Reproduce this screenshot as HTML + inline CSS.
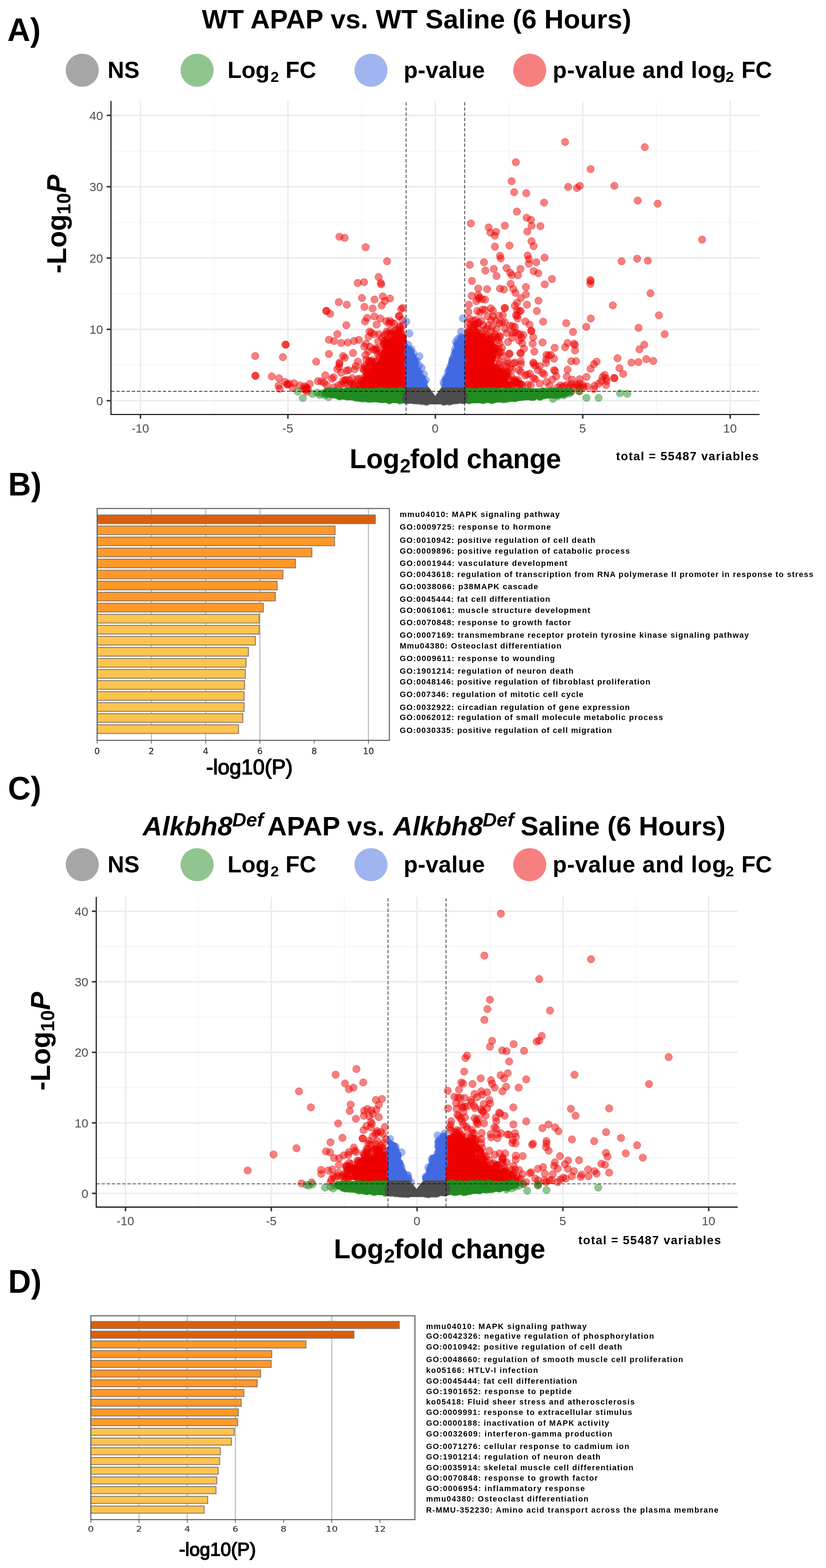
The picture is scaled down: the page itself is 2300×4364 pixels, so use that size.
<!DOCTYPE html><html><head><meta charset="utf-8"><title>Figure</title><style>html,body{margin:0;padding:0;background:#fff}svg{display:block}text{white-space:pre}</style></head><body>
<svg width="2300" height="4364" viewBox="0 0 2300 4364">
<rect width="2300" height="4364" fill="#fff"/>
<text transform="translate(20.5,114) scale(1,1.035)" font-family="'Liberation Sans', sans-serif" font-size="88" font-weight="bold">A)</text>
<text transform="translate(22.8,1378.6) scale(1,1.035)" font-family="'Liberation Sans', sans-serif" font-size="88" font-weight="bold">B)</text>
<text transform="translate(22,2225) scale(1,1.035)" font-family="'Liberation Sans', sans-serif" font-size="88" font-weight="bold">C)</text>
<text transform="translate(22.8,3597.5) scale(1,1.035)" font-family="'Liberation Sans', sans-serif" font-size="88" font-weight="bold">D)</text>
<text x="562" y="78.6" font-family="'Liberation Sans', sans-serif" font-size="75" font-weight="bold" textLength="1196" lengthAdjust="spacing">WT APAP vs. WT Saline (6 Hours)</text>
<circle cx="229" cy="195.5" r="46" fill="#A6A6A6"/>
<circle cx="548.8" cy="195.5" r="46" fill="#90C590"/>
<circle cx="1033" cy="195.5" r="46" fill="#A0B4F0"/>
<circle cx="1475" cy="195.5" r="46" fill="#F68080"/>
<text x="299.5" y="216.9" font-family="'Liberation Sans', sans-serif" font-size="64" font-weight="bold">NS</text>
<text x="633.4" y="216.9" font-family="'Liberation Sans', sans-serif" font-size="64" font-weight="bold">Log</text>
<text x="753.5" y="227.9" font-family="'Liberation Sans', sans-serif" font-size="41.5" font-weight="bold">2</text>
<text x="795.1" y="216.9" font-family="'Liberation Sans', sans-serif" font-size="64" font-weight="bold">FC</text>
<text x="1124" y="216.9" font-family="'Liberation Sans', sans-serif" font-size="64" font-weight="bold" textLength="226" lengthAdjust="spacing">p-value</text>
<text x="1539" y="216.9" font-family="'Liberation Sans', sans-serif" font-size="64" font-weight="bold" textLength="483" lengthAdjust="spacing">p-value and log</text>
<text x="2020.5" y="227.9" font-family="'Liberation Sans', sans-serif" font-size="41.5" font-weight="bold">2</text>
<text x="2064.5" y="216.9" font-family="'Liberation Sans', sans-serif" font-size="64" font-weight="bold">FC</text>
<g>
<line x1="596.5" x2="596.5" y1="281" y2="1153.7" stroke="#F0F0F0" stroke-width="1.6"/>
<line x1="1007.0" x2="1007.0" y1="281" y2="1153.7" stroke="#F0F0F0" stroke-width="1.6"/>
<line x1="1417.5" x2="1417.5" y1="281" y2="1153.7" stroke="#F0F0F0" stroke-width="1.6"/>
<line x1="1828.0" x2="1828.0" y1="281" y2="1153.7" stroke="#F0F0F0" stroke-width="1.6"/>
<line x1="309.3" x2="2115" y1="1016.0" y2="1016.0" stroke="#F0F0F0" stroke-width="1.6"/>
<line x1="309.3" x2="2115" y1="817.5" y2="817.5" stroke="#F0F0F0" stroke-width="1.6"/>
<line x1="309.3" x2="2115" y1="619.0" y2="619.0" stroke="#F0F0F0" stroke-width="1.6"/>
<line x1="309.3" x2="2115" y1="420.5" y2="420.5" stroke="#F0F0F0" stroke-width="1.6"/>
<line x1="391.2" x2="391.2" y1="281" y2="1153.7" stroke="#EBEBEB" stroke-width="4"/>
<line x1="801.7" x2="801.7" y1="281" y2="1153.7" stroke="#EBEBEB" stroke-width="4"/>
<line x1="1212.2" x2="1212.2" y1="281" y2="1153.7" stroke="#EBEBEB" stroke-width="4"/>
<line x1="1622.7" x2="1622.7" y1="281" y2="1153.7" stroke="#EBEBEB" stroke-width="4"/>
<line x1="2033.2" x2="2033.2" y1="281" y2="1153.7" stroke="#EBEBEB" stroke-width="4"/>
<line x1="309.3" x2="2115" y1="1115.2" y2="1115.2" stroke="#EBEBEB" stroke-width="4"/>
<line x1="309.3" x2="2115" y1="916.7" y2="916.7" stroke="#EBEBEB" stroke-width="4"/>
<line x1="309.3" x2="2115" y1="718.2" y2="718.2" stroke="#EBEBEB" stroke-width="4"/>
<line x1="309.3" x2="2115" y1="519.7" y2="519.7" stroke="#EBEBEB" stroke-width="4"/>
<line x1="309.3" x2="2115" y1="321.2" y2="321.2" stroke="#EBEBEB" stroke-width="4"/>
<g fill="#EE0000" >
<path d="M1131.0 931.0L1106.0 937.0L1084.0 947.0L1073.0 965.0L1067.0 989.0L1052.0 1005.0L1037.0 1020.0L1032.0 1040.0L1022.0 1059.0L1010.0 1073.0L968.0 1080.0L1131.0 1084.0Z"/>
<path d="M1293.0 927.0L1320.0 927.0L1344.0 932.0L1363.0 946.0L1370.0 970.0L1374.0 995.0L1370.0 1015.0L1380.0 1030.0L1400.0 1041.0L1414.0 1055.0L1420.0 1069.0L1428.0 1079.0L1293.0 1084.0Z"/>
<circle cx="1078.2" cy="970.8" r="11" fill-opacity="0.5"/><circle cx="1075.3" cy="970.2" r="11" fill-opacity="0.75"/><circle cx="1109.3" cy="943.4" r="11" fill-opacity="0.75"/><circle cx="1089.5" cy="1074.5" r="11" fill-opacity="0.5"/><circle cx="1124.7" cy="974.3" r="11" fill-opacity="0.75"/><circle cx="1087.0" cy="960.2" r="11" fill-opacity="0.75"/><circle cx="1115.4" cy="941.3" r="11" fill-opacity="0.5"/><circle cx="1020.3" cy="1068.2" r="11" fill-opacity="0.75"/><circle cx="1037.6" cy="1044.0" r="11" fill-opacity="0.75"/><circle cx="1123.8" cy="1025.8" r="11" fill-opacity="0.5"/><circle cx="1081.4" cy="1073.9" r="11" fill-opacity="0.75"/><circle cx="1040.9" cy="1041.6" r="11" fill-opacity="0.75"/><circle cx="1122.7" cy="1065.5" r="11" fill-opacity="0.5"/><circle cx="1124.3" cy="1003.5" r="11" fill-opacity="0.75"/><circle cx="1044.6" cy="1023.0" r="11" fill-opacity="0.75"/><circle cx="1086.4" cy="960.1" r="11" fill-opacity="0.5"/><circle cx="1026.5" cy="1063.5" r="11" fill-opacity="0.75"/><circle cx="1066.4" cy="1002.7" r="11" fill-opacity="0.75"/><circle cx="1086.4" cy="955.2" r="11" fill-opacity="0.5"/><circle cx="1031.6" cy="1050.6" r="11" fill-opacity="0.75"/><circle cx="1122.7" cy="949.5" r="11" fill-opacity="0.75"/><circle cx="1108.5" cy="1073.8" r="11" fill-opacity="0.5"/><circle cx="1122.6" cy="1041.1" r="11" fill-opacity="0.75"/><circle cx="1123.7" cy="968.9" r="11" fill-opacity="0.75"/><circle cx="1065.5" cy="1001.3" r="11" fill-opacity="0.5"/><circle cx="1034.2" cy="1044.4" r="11" fill-opacity="0.75"/><circle cx="1121.1" cy="941.3" r="11" fill-opacity="0.75"/><circle cx="1045.2" cy="1018.9" r="11" fill-opacity="0.5"/><circle cx="1122.6" cy="1058.5" r="11" fill-opacity="0.75"/><circle cx="1046.9" cy="1072.5" r="11" fill-opacity="0.75"/><circle cx="1072.7" cy="984.2" r="11" fill-opacity="0.5"/><circle cx="1081.7" cy="965.5" r="11" fill-opacity="0.75"/><circle cx="1032.4" cy="1060.2" r="11" fill-opacity="0.75"/><circle cx="1122.5" cy="1017.8" r="11" fill-opacity="0.5"/><circle cx="1015.8" cy="1072.8" r="11" fill-opacity="0.75"/><circle cx="1123.2" cy="993.8" r="11" fill-opacity="0.75"/><circle cx="1096.4" cy="945.0" r="11" fill-opacity="0.5"/><circle cx="1039.9" cy="1035.5" r="11" fill-opacity="0.75"/><circle cx="1044.2" cy="1029.9" r="11" fill-opacity="0.75"/><circle cx="1123.3" cy="979.1" r="11" fill-opacity="0.5"/><circle cx="1042.4" cy="1072.1" r="11" fill-opacity="0.75"/><circle cx="1121.8" cy="939.0" r="11" fill-opacity="0.75"/><circle cx="1026.5" cy="1064.9" r="11" fill-opacity="0.5"/><circle cx="1073.5" cy="980.2" r="11" fill-opacity="0.75"/><circle cx="1037.7" cy="1032.4" r="11" fill-opacity="0.75"/><circle cx="1123.3" cy="1039.5" r="11" fill-opacity="0.5"/><circle cx="1029.2" cy="1059.3" r="11" fill-opacity="0.75"/><circle cx="1042.5" cy="1035.1" r="11" fill-opacity="0.75"/><circle cx="1078.3" cy="970.7" r="11" fill-opacity="0.5"/><circle cx="1099.0" cy="943.6" r="11" fill-opacity="0.75"/><circle cx="1088.5" cy="950.9" r="11" fill-opacity="0.75"/><circle cx="1079.2" cy="972.6" r="11" fill-opacity="0.5"/><circle cx="1055.5" cy="1074.6" r="11" fill-opacity="0.75"/><circle cx="1108.0" cy="939.6" r="11" fill-opacity="0.75"/><circle cx="1079.4" cy="971.0" r="11" fill-opacity="0.5"/><circle cx="1122.2" cy="976.6" r="11" fill-opacity="0.75"/><circle cx="1058.7" cy="1073.7" r="11" fill-opacity="0.75"/><circle cx="1022.9" cy="1064.1" r="11" fill-opacity="0.5"/><circle cx="1121.8" cy="1055.1" r="11" fill-opacity="0.75"/><circle cx="1087.9" cy="952.8" r="11" fill-opacity="0.75"/><circle cx="1334.0" cy="938.0" r="11" fill-opacity="0.5"/><circle cx="1366.1" cy="976.7" r="11" fill-opacity="0.75"/><circle cx="1368.8" cy="1073.9" r="11" fill-opacity="0.75"/><circle cx="1302.1" cy="994.3" r="11" fill-opacity="0.5"/><circle cx="1302.5" cy="1026.9" r="11" fill-opacity="0.75"/><circle cx="1359.1" cy="1071.9" r="11" fill-opacity="0.75"/><circle cx="1404.7" cy="1058.4" r="11" fill-opacity="0.5"/><circle cx="1363.3" cy="1003.6" r="11" fill-opacity="0.75"/><circle cx="1313.5" cy="1074.5" r="11" fill-opacity="0.75"/><circle cx="1367.1" cy="1003.4" r="11" fill-opacity="0.5"/><circle cx="1332.6" cy="937.0" r="11" fill-opacity="0.75"/><circle cx="1363.2" cy="1017.5" r="11" fill-opacity="0.75"/><circle cx="1313.4" cy="1073.9" r="11" fill-opacity="0.5"/><circle cx="1322.8" cy="937.5" r="11" fill-opacity="0.75"/><circle cx="1300.2" cy="944.9" r="11" fill-opacity="0.75"/><circle cx="1364.2" cy="985.1" r="11" fill-opacity="0.5"/><circle cx="1362.1" cy="956.6" r="11" fill-opacity="0.75"/><circle cx="1300.1" cy="1017.1" r="11" fill-opacity="0.75"/><circle cx="1301.0" cy="1057.6" r="11" fill-opacity="0.5"/><circle cx="1362.8" cy="1072.2" r="11" fill-opacity="0.75"/><circle cx="1300.8" cy="1064.5" r="11" fill-opacity="0.75"/><circle cx="1367.2" cy="1028.8" r="11" fill-opacity="0.5"/><circle cx="1341.9" cy="939.6" r="11" fill-opacity="0.75"/><circle cx="1300.4" cy="984.9" r="11" fill-opacity="0.75"/><circle cx="1411.4" cy="1074.5" r="11" fill-opacity="0.5"/><circle cx="1337.0" cy="939.1" r="11" fill-opacity="0.75"/><circle cx="1387.9" cy="1038.1" r="11" fill-opacity="0.75"/><circle cx="1365.5" cy="1007.5" r="11" fill-opacity="0.5"/><circle cx="1417.7" cy="1072.1" r="11" fill-opacity="0.75"/><circle cx="1352.4" cy="1072.6" r="11" fill-opacity="0.75"/><circle cx="1308.5" cy="933.2" r="11" fill-opacity="0.5"/><circle cx="1301.7" cy="1070.8" r="11" fill-opacity="0.75"/><circle cx="1361.5" cy="963.0" r="11" fill-opacity="0.75"/><circle cx="1300.9" cy="964.2" r="11" fill-opacity="0.5"/><circle cx="1362.1" cy="1072.4" r="11" fill-opacity="0.75"/><circle cx="1309.8" cy="934.5" r="11" fill-opacity="0.75"/><circle cx="1361.3" cy="964.8" r="11" fill-opacity="0.5"/><circle cx="1365.3" cy="1002.6" r="11" fill-opacity="0.75"/><circle cx="1370.9" cy="995.2" r="11" fill-opacity="0.75"/><circle cx="1368.8" cy="1020.7" r="11" fill-opacity="0.5"/><circle cx="1359.3" cy="962.8" r="11" fill-opacity="0.75"/><circle cx="1301.6" cy="1040.4" r="11" fill-opacity="0.75"/><circle cx="1377.1" cy="1036.7" r="11" fill-opacity="0.5"/><circle cx="1370.0" cy="1021.2" r="11" fill-opacity="0.75"/><circle cx="1369.0" cy="988.9" r="11" fill-opacity="0.75"/><circle cx="1325.8" cy="931.4" r="11" fill-opacity="0.5"/><circle cx="1365.4" cy="973.6" r="11" fill-opacity="0.75"/><circle cx="1367.2" cy="982.7" r="11" fill-opacity="0.75"/><circle cx="1323.5" cy="932.0" r="11" fill-opacity="0.5"/><circle cx="1362.1" cy="1012.3" r="11" fill-opacity="0.75"/><circle cx="1366.2" cy="1011.4" r="11" fill-opacity="0.75"/><circle cx="1314.3" cy="935.6" r="11" fill-opacity="0.5"/><circle cx="1364.5" cy="993.7" r="11" fill-opacity="0.75"/><circle cx="1369.8" cy="991.4" r="11" fill-opacity="0.75"/><circle cx="1302.5" cy="949.1" r="11" fill-opacity="0.5"/><circle cx="1300.7" cy="1032.3" r="11" fill-opacity="0.75"/><circle cx="1398.0" cy="1052.6" r="11" fill-opacity="0.75"/><circle cx="1342.1" cy="936.7" r="11" fill-opacity="0.5"/><circle cx="1339.9" cy="1073.9" r="11" fill-opacity="0.75"/><circle cx="1361.9" cy="1007.1" r="11" fill-opacity="0.75"/>
</g>
<g fill="#EE0000" fill-opacity="0.5" stroke="#EE0000" stroke-opacity="0.5" stroke-width="1">
<circle cx="945.0" cy="658.9" r="10.5"/><circle cx="959.5" cy="662.0" r="10.5"/><circle cx="1018.1" cy="688.0" r="10.5"/><circle cx="1077.7" cy="727.1" r="10.5"/><circle cx="1054.2" cy="771.1" r="10.5"/><circle cx="1573.4" cy="395.1" r="10.5"/><circle cx="1795.3" cy="409.6" r="10.5"/><circle cx="1436.2" cy="451.6" r="10.5"/><circle cx="1644.5" cy="470.7" r="10.5"/><circle cx="1424.7" cy="504.2" r="10.5"/><circle cx="1582.0" cy="520.2" r="10.5"/><circle cx="1606.5" cy="523.2" r="10.5"/><circle cx="1614.5" cy="517.2" r="10.5"/><circle cx="1710.6" cy="517.2" r="10.5"/><circle cx="1431.7" cy="534.8" r="10.5"/><circle cx="1465.3" cy="537.8" r="10.5"/><circle cx="1775.7" cy="558.3" r="10.5"/><circle cx="1831.3" cy="566.8" r="10.5"/><circle cx="1514.9" cy="563.8" r="10.5"/><circle cx="1439.2" cy="588.8" r="10.5"/><circle cx="1466.3" cy="605.9" r="10.5"/><circle cx="1478.3" cy="611.9" r="10.5"/><circle cx="1311.0" cy="621.9" r="10.5"/><circle cx="1405.7" cy="627.9" r="10.5"/><circle cx="1480.3" cy="628.4" r="10.5"/><circle cx="1504.8" cy="629.4" r="10.5"/><circle cx="1360.6" cy="632.9" r="10.5"/><circle cx="1468.3" cy="644.4" r="10.5"/><circle cx="1381.2" cy="645.4" r="10.5"/><circle cx="1365.6" cy="647.4" r="10.5"/><circle cx="1377.6" cy="655.9" r="10.5"/><circle cx="1955.0" cy="667.0" r="10.5"/><circle cx="1479.8" cy="671.5" r="10.5"/><circle cx="1485.8" cy="685.0" r="10.5"/><circle cx="1418.7" cy="683.5" r="10.5"/><circle cx="1378.1" cy="686.5" r="10.5"/><circle cx="1392.2" cy="712.0" r="10.5"/><circle cx="1394.2" cy="719.5" r="10.5"/><circle cx="1469.3" cy="711.0" r="10.5"/><circle cx="1472.8" cy="721.5" r="10.5"/><circle cx="1516.4" cy="717.0" r="10.5"/><circle cx="1774.2" cy="720.0" r="10.5"/><circle cx="1730.7" cy="727.1" r="10.5"/><circle cx="1803.8" cy="725.5" r="10.5"/><circle cx="1347.6" cy="730.1" r="10.5"/><circle cx="1493.3" cy="730.1" r="10.5"/><circle cx="1472.3" cy="734.1" r="10.5"/><circle cx="1308.0" cy="737.1" r="10.5"/><circle cx="1375.1" cy="748.6" r="10.5"/><circle cx="1410.2" cy="746.1" r="10.5"/><circle cx="1449.3" cy="748.6" r="10.5"/><circle cx="1351.6" cy="753.1" r="10.5"/><circle cx="1485.8" cy="754.6" r="10.5"/><circle cx="1498.8" cy="760.6" r="10.5"/><circle cx="1420.2" cy="759.1" r="10.5"/><circle cx="1425.2" cy="765.6" r="10.5"/><circle cx="1442.2" cy="766.1" r="10.5"/><circle cx="1382.7" cy="768.1" r="10.5"/><circle cx="1536.9" cy="776.6" r="10.5"/><circle cx="1644.0" cy="779.1" r="10.5"/><circle cx="1314.0" cy="782.0" r="10.5"/><circle cx="1331.8" cy="803.0" r="10.5"/><circle cx="1356.3" cy="804.5" r="10.5"/><circle cx="1392.2" cy="803.3" r="10.5"/><circle cx="1403.2" cy="805.8" r="10.5"/><circle cx="1421.9" cy="790.0" r="10.5"/><circle cx="1429.5" cy="804.3" r="10.5"/><circle cx="1435.2" cy="815.1" r="10.5"/><circle cx="1464.3" cy="798.8" r="10.5"/><circle cx="1464.5" cy="819.3" r="10.5"/><circle cx="1450.2" cy="829.3" r="10.5"/><circle cx="1439.7" cy="842.6" r="10.5"/><circle cx="1433.5" cy="850.9" r="10.5"/><circle cx="1467.3" cy="848.1" r="10.5"/><circle cx="1499.3" cy="836.8" r="10.5"/><circle cx="1516.8" cy="791.5" r="10.5"/><circle cx="1313.3" cy="823.3" r="10.5"/><circle cx="1331.3" cy="821.3" r="10.5"/><circle cx="1335.1" cy="827.6" r="10.5"/><circle cx="1326.3" cy="838.1" r="10.5"/><circle cx="1342.6" cy="832.6" r="10.5"/><circle cx="1350.8" cy="833.8" r="10.5"/><circle cx="1332.6" cy="831.3" r="10.5"/><circle cx="1305.3" cy="847.9" r="10.5"/><circle cx="1304.3" cy="868.1" r="10.5"/><circle cx="1329.3" cy="865.6" r="10.5"/><circle cx="1343.8" cy="861.4" r="10.5"/><circle cx="1336.3" cy="870.1" r="10.5"/><circle cx="1350.1" cy="862.6" r="10.5"/><circle cx="1366.4" cy="858.1" r="10.5"/><circle cx="1372.6" cy="865.1" r="10.5"/><circle cx="1405.7" cy="857.1" r="10.5"/><circle cx="1405.2" cy="857.6" r="10.5"/><circle cx="1439.5" cy="862.6" r="10.5"/><circle cx="1446.5" cy="866.4" r="10.5"/><circle cx="1450.2" cy="865.1" r="10.5"/><circle cx="1436.5" cy="877.1" r="10.5"/><circle cx="1441.5" cy="886.4" r="10.5"/><circle cx="1439.7" cy="878.9" r="10.5"/><circle cx="1494.8" cy="865.6" r="10.5"/><circle cx="1512.3" cy="895.2" r="10.5"/><circle cx="1576.7" cy="899.4" r="10.5"/><circle cx="1400.2" cy="876.9" r="10.5"/><circle cx="1388.9" cy="878.9" r="10.5"/><circle cx="1372.6" cy="880.2" r="10.5"/><circle cx="1357.6" cy="880.2" r="10.5"/><circle cx="1367.6" cy="890.2" r="10.5"/><circle cx="1380.1" cy="892.7" r="10.5"/><circle cx="1397.7" cy="897.7" r="10.5"/><circle cx="1405.2" cy="896.4" r="10.5"/><circle cx="1390.2" cy="900.2" r="10.5"/><circle cx="1307.5" cy="887.7" r="10.5"/><circle cx="1317.5" cy="892.7" r="10.5"/><circle cx="1325.1" cy="890.2" r="10.5"/><circle cx="1332.6" cy="897.7" r="10.5"/><circle cx="1340.1" cy="892.7" r="10.5"/><circle cx="1322.5" cy="902.7" r="10.5"/><circle cx="1310.0" cy="905.2" r="10.5"/><circle cx="1302.5" cy="897.7" r="10.5"/><circle cx="1315.0" cy="910.2" r="10.5"/><circle cx="1330.1" cy="910.2" r="10.5"/><circle cx="1345.1" cy="905.2" r="10.5"/><circle cx="1305.0" cy="916.5" r="10.5"/><circle cx="1462.8" cy="894.7" r="10.5"/><circle cx="1474.5" cy="903.4" r="10.5"/><circle cx="1479.0" cy="920.2" r="10.5"/><circle cx="1479.8" cy="921.5" r="10.5"/><circle cx="1484.8" cy="938.5" r="10.5"/><circle cx="1483.0" cy="956.5" r="10.5"/><circle cx="1487.8" cy="978.3" r="10.5"/><circle cx="1510.8" cy="953.0" r="10.5"/><circle cx="1420.2" cy="906.4" r="10.5"/><circle cx="1427.7" cy="907.7" r="10.5"/><circle cx="1434.0" cy="910.2" r="10.5"/><circle cx="1406.4" cy="915.2" r="10.5"/><circle cx="1411.4" cy="926.5" r="10.5"/><circle cx="1426.5" cy="926.5" r="10.5"/><circle cx="1434.0" cy="925.2" r="10.5"/><circle cx="1440.2" cy="927.7" r="10.5"/><circle cx="1447.7" cy="930.2" r="10.5"/><circle cx="1457.3" cy="932.2" r="10.5"/><circle cx="1452.7" cy="940.2" r="10.5"/><circle cx="1445.2" cy="947.8" r="10.5"/><circle cx="1454.0" cy="955.3" r="10.5"/><circle cx="1459.0" cy="970.3" r="10.5"/><circle cx="1449.0" cy="982.8" r="10.5"/><circle cx="1450.2" cy="983.3" r="10.5"/><circle cx="1390.2" cy="935.2" r="10.5"/><circle cx="1392.7" cy="936.5" r="10.5"/><circle cx="1382.6" cy="915.2" r="10.5"/><circle cx="1370.1" cy="910.2" r="10.5"/><circle cx="1360.1" cy="905.2" r="10.5"/><circle cx="1355.1" cy="915.2" r="10.5"/><circle cx="1367.6" cy="922.7" r="10.5"/><circle cx="1377.6" cy="930.2" r="10.5"/><circle cx="1414.4" cy="951.8" r="10.5"/><circle cx="1426.5" cy="940.2" r="10.5"/><circle cx="1595.5" cy="924.0" r="10.5"/><circle cx="1580.4" cy="954.5" r="10.5"/><circle cx="1598.5" cy="956.5" r="10.5"/><circle cx="1600.5" cy="960.3" r="10.5"/><circle cx="1573.4" cy="966.5" r="10.5"/><circle cx="1601.2" cy="975.3" r="10.5"/><circle cx="1544.4" cy="967.8" r="10.5"/><circle cx="1521.6" cy="987.8" r="10.5"/><circle cx="1527.9" cy="989.1" r="10.5"/><circle cx="1534.1" cy="987.8" r="10.5"/><circle cx="1542.9" cy="998.3" r="10.5"/><circle cx="1520.8" cy="1000.3" r="10.5"/><circle cx="1418.9" cy="984.1" r="10.5"/><circle cx="1417.7" cy="985.3" r="10.5"/><circle cx="1397.7" cy="967.8" r="10.5"/><circle cx="1395.2" cy="980.3" r="10.5"/><circle cx="1590.5" cy="1005.3" r="10.5"/><circle cx="1604.2" cy="1005.3" r="10.5"/><circle cx="1450.2" cy="1005.3" r="10.5"/><circle cx="1434.0" cy="1009.1" r="10.5"/><circle cx="1412.7" cy="1005.3" r="10.5"/><circle cx="1392.7" cy="1007.8" r="10.5"/><circle cx="1485.3" cy="1009.1" r="10.5"/><circle cx="1643.8" cy="790.0" r="10.5"/><circle cx="1644.5" cy="783.0" r="10.5"/><circle cx="1811.3" cy="816.3" r="10.5"/><circle cx="1706.4" cy="849.9" r="10.5"/><circle cx="1645.0" cy="886.4" r="10.5"/><circle cx="1632.5" cy="909.7" r="10.5"/><circle cx="1834.8" cy="877.6" r="10.5"/><circle cx="1778.0" cy="912.4" r="10.5"/><circle cx="1850.8" cy="930.0" r="10.5"/><circle cx="1794.0" cy="959.3" r="10.5"/><circle cx="1780.5" cy="972.3" r="10.5"/><circle cx="1719.4" cy="997.1" r="10.5"/><circle cx="1661.3" cy="1006.6" r="10.5"/><circle cx="1758.2" cy="1009.1" r="10.5"/><circle cx="1777.7" cy="1007.8" r="10.5"/><circle cx="1799.5" cy="999.6" r="10.5"/><circle cx="1819.0" cy="1004.6" r="10.5"/><circle cx="1450.2" cy="1013.8" r="10.5"/><circle cx="1485.3" cy="1012.6" r="10.5"/><circle cx="1490.3" cy="1017.6" r="10.5"/><circle cx="1502.8" cy="1018.8" r="10.5"/><circle cx="1497.8" cy="1030.1" r="10.5"/><circle cx="1510.3" cy="1037.6" r="10.5"/><circle cx="1515.3" cy="1041.4" r="10.5"/><circle cx="1520.3" cy="1010.1" r="10.5"/><circle cx="1542.9" cy="1030.1" r="10.5"/><circle cx="1545.4" cy="1032.6" r="10.5"/><circle cx="1549.1" cy="1047.6" r="10.5"/><circle cx="1580.4" cy="1028.9" r="10.5"/><circle cx="1577.9" cy="1047.6" r="10.5"/><circle cx="1593.0" cy="1056.4" r="10.5"/><circle cx="1614.2" cy="1055.1" r="10.5"/><circle cx="1537.9" cy="1056.4" r="10.5"/><circle cx="1521.6" cy="1062.7" r="10.5"/><circle cx="1530.4" cy="1073.9" r="10.5"/><circle cx="1502.8" cy="1067.7" r="10.5"/><circle cx="1485.3" cy="1052.6" r="10.5"/><circle cx="1490.3" cy="1055.1" r="10.5"/><circle cx="1475.3" cy="1040.1" r="10.5"/><circle cx="1467.8" cy="1042.6" r="10.5"/><circle cx="1462.8" cy="1045.1" r="10.5"/><circle cx="1450.2" cy="1035.1" r="10.5"/><circle cx="1445.2" cy="1030.1" r="10.5"/><circle cx="1426.5" cy="1028.9" r="10.5"/><circle cx="1420.2" cy="1025.1" r="10.5"/><circle cx="1410.2" cy="1020.1" r="10.5"/><circle cx="1412.7" cy="1011.3" r="10.5"/><circle cx="1430.2" cy="1011.3" r="10.5"/><circle cx="1437.7" cy="1060.2" r="10.5"/><circle cx="1440.2" cy="1065.2" r="10.5"/><circle cx="1445.2" cy="1070.2" r="10.5"/><circle cx="1470.3" cy="1070.2" r="10.5"/><circle cx="1477.8" cy="1072.7" r="10.5"/><circle cx="1560.4" cy="1072.7" r="10.5"/><circle cx="1570.4" cy="1073.9" r="10.5"/><circle cx="1580.4" cy="1070.2" r="10.5"/><circle cx="1590.5" cy="1067.7" r="10.5"/><circle cx="1603.0" cy="1070.2" r="10.5"/><circle cx="1613.0" cy="1067.7" r="10.5"/><circle cx="1623.0" cy="1071.4" r="10.5"/><circle cx="1565.4" cy="1077.7" r="10.5"/><circle cx="1585.4" cy="1076.4" r="10.5"/><circle cx="1598.0" cy="1077.7" r="10.5"/><circle cx="1615.5" cy="1077.7" r="10.5"/><circle cx="1625.5" cy="1077.7" r="10.5"/><circle cx="1552.9" cy="1077.7" r="10.5"/><circle cx="1608.0" cy="1073.9" r="10.5"/><circle cx="1613.0" cy="1088.9" r="10.5"/><circle cx="1590.5" cy="1090.2" r="10.5"/><circle cx="1710.1" cy="1051.8" r="10.5"/><circle cx="1710.9" cy="1052.5" r="10.5"/><circle cx="1735.3" cy="1040.5" r="10.5"/><circle cx="1724.8" cy="1024.7" r="10.5"/><circle cx="1644.3" cy="1026.6" r="10.5"/><circle cx="1653.7" cy="1013.5" r="10.5"/><circle cx="1633.0" cy="1049.1" r="10.5"/><circle cx="1655.6" cy="1073.5" r="10.5"/><circle cx="1666.8" cy="1067.9" r="10.5"/><circle cx="1674.3" cy="1060.4" r="10.5"/><circle cx="1683.7" cy="1043.5" r="10.5"/><circle cx="1687.5" cy="1052.9" r="10.5"/><circle cx="1689.4" cy="1060.4" r="10.5"/><circle cx="1678.1" cy="1049.1" r="10.5"/><circle cx="1687.5" cy="1071.7" r="10.5"/><circle cx="1653.7" cy="1082.9" r="10.5"/><circle cx="1634.9" cy="1075.4" r="10.5"/><circle cx="710.6" cy="990.9" r="10.5"/><circle cx="711.0" cy="1045.8" r="10.5"/><circle cx="711.4" cy="1046.1" r="10.5"/><circle cx="795.1" cy="959.0" r="10.5"/><circle cx="795.5" cy="959.4" r="10.5"/><circle cx="787.6" cy="993.9" r="10.5"/><circle cx="756.8" cy="1047.6" r="10.5"/><circle cx="777.1" cy="1052.9" r="10.5"/><circle cx="775.6" cy="1073.5" r="10.5"/><circle cx="778.6" cy="1082.2" r="10.5"/><circle cx="793.2" cy="1062.7" r="10.5"/><circle cx="799.6" cy="1069.8" r="10.5"/><circle cx="996.0" cy="787.5" r="10.5"/><circle cx="1013.6" cy="785.5" r="10.5"/><circle cx="1060.4" cy="787.5" r="10.5"/><circle cx="1061.6" cy="791.3" r="10.5"/><circle cx="1007.8" cy="829.3" r="10.5"/><circle cx="1042.9" cy="833.6" r="10.5"/><circle cx="1066.1" cy="825.1" r="10.5"/><circle cx="1071.7" cy="837.6" r="10.5"/><circle cx="1085.9" cy="830.8" r="10.5"/><circle cx="1062.9" cy="850.1" r="10.5"/><circle cx="943.5" cy="840.8" r="10.5"/><circle cx="965.7" cy="848.1" r="10.5"/><circle cx="1014.8" cy="854.1" r="10.5"/><circle cx="1037.4" cy="858.6" r="10.5"/><circle cx="908.2" cy="865.6" r="10.5"/><circle cx="909.4" cy="865.1" r="10.5"/><circle cx="919.4" cy="873.4" r="10.5"/><circle cx="1121.7" cy="856.9" r="10.5"/><circle cx="1116.7" cy="860.1" r="10.5"/><circle cx="1110.5" cy="880.2" r="10.5"/><circle cx="1111.7" cy="878.9" r="10.5"/><circle cx="1022.1" cy="884.7" r="10.5"/><circle cx="1042.4" cy="880.7" r="10.5"/><circle cx="1059.1" cy="886.4" r="10.5"/><circle cx="1016.6" cy="894.7" r="10.5"/><circle cx="1075.4" cy="893.9" r="10.5"/><circle cx="1085.4" cy="892.7" r="10.5"/><circle cx="1090.4" cy="897.7" r="10.5"/><circle cx="1097.9" cy="900.2" r="10.5"/><circle cx="1048.6" cy="903.4" r="10.5"/><circle cx="1082.9" cy="900.2" r="10.5"/><circle cx="1120.5" cy="890.2" r="10.5"/><circle cx="1123.0" cy="905.2" r="10.5"/><circle cx="964.2" cy="905.2" r="10.5"/><circle cx="939.5" cy="929.7" r="10.5"/><circle cx="1029.1" cy="922.7" r="10.5"/><circle cx="1034.1" cy="926.5" r="10.5"/><circle cx="1041.6" cy="930.2" r="10.5"/><circle cx="1055.4" cy="930.2" r="10.5"/><circle cx="1076.7" cy="922.7" r="10.5"/><circle cx="1086.7" cy="920.2" r="10.5"/><circle cx="1113.0" cy="919.0" r="10.5"/><circle cx="1110.5" cy="922.7" r="10.5"/><circle cx="1026.1" cy="937.2" r="10.5"/><circle cx="1062.9" cy="940.2" r="10.5"/><circle cx="1052.9" cy="950.3" r="10.5"/><circle cx="1070.4" cy="932.7" r="10.5"/><circle cx="1100.5" cy="927.7" r="10.5"/><circle cx="915.7" cy="945.7" r="10.5"/><circle cx="930.2" cy="949.0" r="10.5"/><circle cx="950.2" cy="954.5" r="10.5"/><circle cx="968.3" cy="953.3" r="10.5"/><circle cx="985.8" cy="949.0" r="10.5"/><circle cx="999.3" cy="946.0" r="10.5"/><circle cx="1019.1" cy="956.5" r="10.5"/><circle cx="1014.1" cy="964.0" r="10.5"/><circle cx="1030.3" cy="965.3" r="10.5"/><circle cx="1040.4" cy="972.8" r="10.5"/><circle cx="1025.3" cy="977.8" r="10.5"/><circle cx="1017.8" cy="987.8" r="10.5"/><circle cx="1020.3" cy="1000.3" r="10.5"/><circle cx="1027.8" cy="1005.3" r="10.5"/><circle cx="915.9" cy="985.3" r="10.5"/><circle cx="983.0" cy="982.3" r="10.5"/><circle cx="955.2" cy="990.8" r="10.5"/><circle cx="960.2" cy="995.8" r="10.5"/><circle cx="880.6" cy="1006.6" r="10.5"/><circle cx="945.2" cy="1009.1" r="10.5"/><circle cx="996.5" cy="1006.6" r="10.5"/><circle cx="945.2" cy="1012.6" r="10.5"/><circle cx="944.0" cy="1021.3" r="10.5"/><circle cx="939.0" cy="1027.6" r="10.5"/><circle cx="990.3" cy="1018.8" r="10.5"/><circle cx="987.8" cy="1027.6" r="10.5"/><circle cx="1010.3" cy="1025.1" r="10.5"/><circle cx="965.2" cy="1031.4" r="10.5"/><circle cx="970.3" cy="1030.1" r="10.5"/><circle cx="950.2" cy="1037.6" r="10.5"/><circle cx="1020.3" cy="1035.1" r="10.5"/><circle cx="905.9" cy="1044.6" r="10.5"/><circle cx="928.9" cy="1050.1" r="10.5"/><circle cx="923.9" cy="1053.9" r="10.5"/><circle cx="885.1" cy="1060.9" r="10.5"/><circle cx="895.1" cy="1061.4" r="10.5"/><circle cx="902.7" cy="1065.2" r="10.5"/><circle cx="955.2" cy="1060.2" r="10.5"/><circle cx="962.7" cy="1057.6" r="10.5"/><circle cx="980.3" cy="1052.6" r="10.5"/><circle cx="995.3" cy="1055.1" r="10.5"/><circle cx="1005.3" cy="1060.2" r="10.5"/><circle cx="1015.3" cy="1050.1" r="10.5"/><circle cx="910.2" cy="1072.7" r="10.5"/><circle cx="930.2" cy="1077.7" r="10.5"/><circle cx="942.7" cy="1072.7" r="10.5"/><circle cx="950.2" cy="1070.2" r="10.5"/><circle cx="970.3" cy="1070.2" r="10.5"/><circle cx="985.3" cy="1072.7" r="10.5"/><circle cx="1000.3" cy="1072.7" r="10.5"/><circle cx="862.6" cy="1068.4" r="10.5"/><circle cx="847.6" cy="1075.2" r="10.5"/><circle cx="835.1" cy="1072.7" r="10.5"/><circle cx="818.8" cy="1066.4" r="10.5"/><circle cx="805.0" cy="1067.7" r="10.5"/><circle cx="800.0" cy="1070.2" r="10.5"/><circle cx="815.0" cy="1080.2" r="10.5"/><circle cx="853.8" cy="1080.2" r="10.5"/><circle cx="857.6" cy="1083.9" r="10.5"/><circle cx="855.1" cy="1090.2" r="10.5"/><circle cx="850.1" cy="1085.2" r="10.5"/><circle cx="852.6" cy="1077.7" r="10.5"/><circle cx="845.1" cy="1082.7" r="10.5"/><circle cx="1015.3" cy="1017.6" r="10.5"/><circle cx="1071.4" cy="948.7" r="10.5"/><circle cx="1011.5" cy="1064.8" r="10.5"/><circle cx="1049.1" cy="1005.1" r="10.5"/><circle cx="1071.5" cy="970.6" r="10.5"/><circle cx="1015.5" cy="1058.0" r="10.5"/><circle cx="1077.2" cy="928.4" r="10.5"/><circle cx="1078.9" cy="945.1" r="10.5"/><circle cx="1016.7" cy="1022.2" r="10.5"/><circle cx="1038.3" cy="1009.9" r="10.5"/><circle cx="1025.4" cy="1038.8" r="10.5"/><circle cx="1002.6" cy="1071.2" r="10.5"/><circle cx="1080.3" cy="947.5" r="10.5"/><circle cx="1117.0" cy="925.3" r="10.5"/><circle cx="1088.0" cy="930.5" r="10.5"/><circle cx="1023.4" cy="1050.2" r="10.5"/><circle cx="1019.3" cy="1056.6" r="10.5"/><circle cx="1012.0" cy="1069.0" r="10.5"/><circle cx="1112.0" cy="909.1" r="10.5"/><circle cx="1001.9" cy="1053.7" r="10.5"/><circle cx="1046.6" cy="974.4" r="10.5"/><circle cx="1067.0" cy="988.1" r="10.5"/><circle cx="1075.9" cy="954.4" r="10.5"/><circle cx="1068.3" cy="958.7" r="10.5"/><circle cx="1114.7" cy="911.2" r="10.5"/><circle cx="1109.3" cy="926.8" r="10.5"/><circle cx="1029.3" cy="1016.4" r="10.5"/><circle cx="1027.6" cy="1021.5" r="10.5"/><circle cx="972.1" cy="1057.6" r="10.5"/><circle cx="1097.6" cy="921.1" r="10.5"/><circle cx="1021.4" cy="1042.1" r="10.5"/><circle cx="1031.4" cy="1035.5" r="10.5"/><circle cx="1104.7" cy="917.2" r="10.5"/><circle cx="981.9" cy="1068.2" r="10.5"/><circle cx="1027.7" cy="1045.0" r="10.5"/><circle cx="1008.3" cy="1070.8" r="10.5"/><circle cx="1025.2" cy="1050.5" r="10.5"/><circle cx="1117.9" cy="930.6" r="10.5"/><circle cx="1022.1" cy="1028.5" r="10.5"/><circle cx="1056.3" cy="992.3" r="10.5"/><circle cx="1013.5" cy="1030.9" r="10.5"/><circle cx="1032.5" cy="1014.9" r="10.5"/><circle cx="1036.5" cy="1002.8" r="10.5"/><circle cx="1066.9" cy="985.2" r="10.5"/><circle cx="1022.0" cy="1045.3" r="10.5"/><circle cx="1088.2" cy="928.9" r="10.5"/><circle cx="1022.7" cy="1051.3" r="10.5"/><circle cx="977.5" cy="1067.8" r="10.5"/><circle cx="1072.8" cy="947.9" r="10.5"/><circle cx="1070.6" cy="955.4" r="10.5"/><circle cx="1015.0" cy="1059.6" r="10.5"/><circle cx="1028.3" cy="1005.8" r="10.5"/><circle cx="1112.2" cy="934.0" r="10.5"/><circle cx="960.9" cy="1058.1" r="10.5"/><circle cx="1075.1" cy="955.6" r="10.5"/><circle cx="1068.3" cy="958.1" r="10.5"/><circle cx="1045.1" cy="1007.3" r="10.5"/><circle cx="1051.0" cy="971.3" r="10.5"/><circle cx="1033.5" cy="1005.2" r="10.5"/><circle cx="1052.3" cy="986.1" r="10.5"/><circle cx="1060.4" cy="982.9" r="10.5"/><circle cx="1046.1" cy="969.7" r="10.5"/><circle cx="1114.4" cy="932.5" r="10.5"/><circle cx="959.8" cy="1066.9" r="10.5"/><circle cx="991.0" cy="1066.7" r="10.5"/><circle cx="1096.6" cy="930.7" r="10.5"/><circle cx="1367.4" cy="960.3" r="10.5"/><circle cx="1401.1" cy="1030.5" r="10.5"/><circle cx="1390.6" cy="1034.8" r="10.5"/><circle cx="1304.1" cy="926.0" r="10.5"/><circle cx="1387.7" cy="1032.1" r="10.5"/><circle cx="1431.8" cy="1057.3" r="10.5"/><circle cx="1328.3" cy="924.3" r="10.5"/><circle cx="1306.0" cy="922.9" r="10.5"/><circle cx="1382.1" cy="1030.9" r="10.5"/><circle cx="1319.8" cy="911.7" r="10.5"/><circle cx="1454.4" cy="1071.8" r="10.5"/><circle cx="1413.4" cy="1045.5" r="10.5"/><circle cx="1437.0" cy="1066.0" r="10.5"/><circle cx="1419.0" cy="1057.2" r="10.5"/><circle cx="1399.2" cy="1035.8" r="10.5"/><circle cx="1348.0" cy="920.2" r="10.5"/><circle cx="1406.8" cy="1046.7" r="10.5"/><circle cx="1366.3" cy="956.8" r="10.5"/><circle cx="1383.9" cy="939.1" r="10.5"/><circle cx="1393.7" cy="1025.7" r="10.5"/><circle cx="1388.8" cy="971.2" r="10.5"/><circle cx="1383.6" cy="1024.3" r="10.5"/><circle cx="1340.9" cy="927.7" r="10.5"/><circle cx="1362.2" cy="944.4" r="10.5"/><circle cx="1410.7" cy="1045.3" r="10.5"/><circle cx="1306.6" cy="925.8" r="10.5"/><circle cx="1391.1" cy="955.3" r="10.5"/><circle cx="1382.5" cy="995.0" r="10.5"/><circle cx="1377.2" cy="978.8" r="10.5"/><circle cx="1399.8" cy="1040.5" r="10.5"/><circle cx="1328.1" cy="928.1" r="10.5"/><circle cx="1423.7" cy="1073.1" r="10.5"/><circle cx="1355.0" cy="939.7" r="10.5"/><circle cx="1380.8" cy="1026.9" r="10.5"/><circle cx="1442.2" cy="1057.2" r="10.5"/><circle cx="1449.1" cy="1069.2" r="10.5"/><circle cx="1387.0" cy="947.1" r="10.5"/><circle cx="1392.6" cy="1035.2" r="10.5"/><circle cx="1423.9" cy="1048.6" r="10.5"/><circle cx="1374.1" cy="981.1" r="10.5"/><circle cx="1412.5" cy="1034.7" r="10.5"/><circle cx="1364.8" cy="942.5" r="10.5"/><circle cx="1358.3" cy="933.8" r="10.5"/><circle cx="1371.1" cy="974.3" r="10.5"/><circle cx="1388.2" cy="981.7" r="10.5"/><circle cx="1385.1" cy="988.1" r="10.5"/><circle cx="1379.1" cy="968.0" r="10.5"/><circle cx="1375.5" cy="967.4" r="10.5"/><circle cx="1379.1" cy="972.5" r="10.5"/><circle cx="1374.3" cy="1012.0" r="10.5"/><circle cx="1391.2" cy="1013.7" r="10.5"/><circle cx="1329.6" cy="900.2" r="10.5"/><circle cx="1377.1" cy="970.6" r="10.5"/><circle cx="1321.8" cy="904.5" r="10.5"/><circle cx="1409.4" cy="1039.6" r="10.5"/><circle cx="1375.4" cy="936.9" r="10.5"/><circle cx="1325.3" cy="925.6" r="10.5"/><circle cx="1400.0" cy="990.9" r="10.5"/><circle cx="1377.6" cy="1023.6" r="10.5"/><circle cx="1409.4" cy="1038.0" r="10.5"/><circle cx="1369.6" cy="959.5" r="10.5"/><circle cx="1367.3" cy="949.4" r="10.5"/><circle cx="1438.3" cy="1070.9" r="10.5"/><circle cx="1371.1" cy="943.9" r="10.5"/><circle cx="1394.1" cy="1037.6" r="10.5"/><circle cx="1449.9" cy="1069.0" r="10.5"/><circle cx="1429.7" cy="1061.6" r="10.5"/><circle cx="1350.9" cy="936.8" r="10.5"/><circle cx="1319.9" cy="925.0" r="10.5"/><circle cx="1430.2" cy="1069.6" r="10.5"/>
</g>
<g fill="#4169E1" >
<path d="M1130.0 950.0L1134.5 956.0L1140.7 965.4L1148.5 979.3L1156.2 993.2L1160.8 1008.7L1168.6 1030.3L1177.8 1048.9L1185.6 1064.3L1196.0 1082.0L1130.0 1082.0Z"/>
<path d="M1228.0 1082.0L1235.0 1061.0L1241.2 1042.7L1247.4 1024.0L1253.6 1005.6L1258.3 993.2L1262.9 974.6L1269.0 953.0L1280.0 940.0L1294.0 930.0L1294.0 1082.0Z"/>
<circle cx="1163.4" cy="1033.9" r="11" fill-opacity="0.5"/><circle cx="1146.3" cy="990.1" r="11" fill-opacity="0.75"/><circle cx="1171.1" cy="1052.5" r="11" fill-opacity="0.75"/><circle cx="1167.7" cy="1048.6" r="11" fill-opacity="0.5"/><circle cx="1180.0" cy="1074.3" r="11" fill-opacity="0.75"/><circle cx="1180.4" cy="1064.0" r="11" fill-opacity="0.75"/><circle cx="1155.4" cy="1072.9" r="11" fill-opacity="0.5"/><circle cx="1139.1" cy="1018.5" r="11" fill-opacity="0.75"/><circle cx="1144.1" cy="1072.2" r="11" fill-opacity="0.75"/><circle cx="1139.4" cy="1038.2" r="11" fill-opacity="0.5"/><circle cx="1155.0" cy="1004.2" r="11" fill-opacity="0.75"/><circle cx="1139.7" cy="1053.5" r="11" fill-opacity="0.75"/><circle cx="1139.2" cy="1008.9" r="11" fill-opacity="0.5"/><circle cx="1139.5" cy="974.4" r="11" fill-opacity="0.75"/><circle cx="1177.3" cy="1060.7" r="11" fill-opacity="0.75"/><circle cx="1155.2" cy="1015.8" r="11" fill-opacity="0.5"/><circle cx="1167.6" cy="1038.1" r="11" fill-opacity="0.75"/><circle cx="1147.7" cy="992.5" r="11" fill-opacity="0.75"/><circle cx="1152.6" cy="1010.2" r="11" fill-opacity="0.5"/><circle cx="1136.0" cy="982.6" r="11" fill-opacity="0.75"/><circle cx="1142.4" cy="978.5" r="11" fill-opacity="0.75"/><circle cx="1137.1" cy="1022.0" r="11" fill-opacity="0.5"/><circle cx="1139.9" cy="975.3" r="11" fill-opacity="0.75"/><circle cx="1161.1" cy="1036.4" r="11" fill-opacity="0.75"/><circle cx="1137.4" cy="1045.9" r="11" fill-opacity="0.5"/><circle cx="1174.2" cy="1051.7" r="11" fill-opacity="0.75"/><circle cx="1155.9" cy="1009.6" r="11" fill-opacity="0.75"/><circle cx="1153.5" cy="1006.1" r="11" fill-opacity="0.5"/><circle cx="1149.2" cy="995.0" r="11" fill-opacity="0.75"/><circle cx="1150.9" cy="1073.1" r="11" fill-opacity="0.75"/><circle cx="1177.2" cy="1067.3" r="11" fill-opacity="0.5"/><circle cx="1174.6" cy="1052.4" r="11" fill-opacity="0.75"/><circle cx="1145.4" cy="988.6" r="11" fill-opacity="0.75"/><circle cx="1139.8" cy="1074.2" r="11" fill-opacity="0.5"/><circle cx="1153.1" cy="1007.8" r="11" fill-opacity="0.75"/><circle cx="1141.2" cy="979.7" r="11" fill-opacity="0.75"/><circle cx="1160.0" cy="1031.9" r="11" fill-opacity="0.5"/><circle cx="1136.1" cy="1011.9" r="11" fill-opacity="0.75"/><circle cx="1137.3" cy="986.5" r="11" fill-opacity="0.75"/><circle cx="1161.2" cy="1026.9" r="11" fill-opacity="0.5"/><circle cx="1284.4" cy="979.9" r="11" fill-opacity="0.75"/><circle cx="1260.1" cy="1000.4" r="11" fill-opacity="0.75"/><circle cx="1265.0" cy="998.4" r="11" fill-opacity="0.5"/><circle cx="1272.3" cy="958.6" r="11" fill-opacity="0.75"/><circle cx="1240.7" cy="1058.4" r="11" fill-opacity="0.75"/><circle cx="1256.3" cy="1027.0" r="11" fill-opacity="0.5"/><circle cx="1250.7" cy="1030.4" r="11" fill-opacity="0.75"/><circle cx="1285.6" cy="941.7" r="11" fill-opacity="0.75"/><circle cx="1281.2" cy="953.1" r="11" fill-opacity="0.5"/><circle cx="1278.8" cy="1073.2" r="11" fill-opacity="0.75"/><circle cx="1275.9" cy="961.7" r="11" fill-opacity="0.75"/><circle cx="1261.7" cy="1012.0" r="11" fill-opacity="0.5"/><circle cx="1286.2" cy="1059.6" r="11" fill-opacity="0.75"/><circle cx="1257.8" cy="1012.8" r="11" fill-opacity="0.75"/><circle cx="1287.4" cy="1003.0" r="11" fill-opacity="0.5"/><circle cx="1284.2" cy="1032.1" r="11" fill-opacity="0.75"/><circle cx="1268.4" cy="981.8" r="11" fill-opacity="0.75"/><circle cx="1237.2" cy="1071.3" r="11" fill-opacity="0.5"/><circle cx="1245.2" cy="1055.7" r="11" fill-opacity="0.75"/><circle cx="1259.6" cy="1008.0" r="11" fill-opacity="0.75"/><circle cx="1247.3" cy="1046.8" r="11" fill-opacity="0.5"/><circle cx="1284.1" cy="1035.6" r="11" fill-opacity="0.75"/><circle cx="1287.4" cy="941.3" r="11" fill-opacity="0.75"/><circle cx="1254.6" cy="1026.0" r="11" fill-opacity="0.5"/><circle cx="1265.0" cy="1073.0" r="11" fill-opacity="0.75"/><circle cx="1281.4" cy="950.7" r="11" fill-opacity="0.75"/><circle cx="1274.2" cy="958.1" r="11" fill-opacity="0.5"/><circle cx="1264.3" cy="1002.9" r="11" fill-opacity="0.75"/><circle cx="1251.7" cy="1072.6" r="11" fill-opacity="0.75"/><circle cx="1265.5" cy="986.3" r="11" fill-opacity="0.5"/><circle cx="1243.0" cy="1056.5" r="11" fill-opacity="0.75"/><circle cx="1248.7" cy="1072.7" r="11" fill-opacity="0.75"/><circle cx="1284.7" cy="995.1" r="11" fill-opacity="0.5"/><circle cx="1285.0" cy="1062.8" r="11" fill-opacity="0.75"/><circle cx="1248.1" cy="1052.9" r="11" fill-opacity="0.75"/><circle cx="1250.3" cy="1044.8" r="11" fill-opacity="0.5"/><circle cx="1255.7" cy="1073.9" r="11" fill-opacity="0.75"/><circle cx="1287.9" cy="1002.5" r="11" fill-opacity="0.75"/><circle cx="1284.1" cy="1032.7" r="11" fill-opacity="0.5"/><circle cx="1270.1" cy="978.1" r="11" fill-opacity="0.75"/>
</g>
<g fill="#4169E1" fill-opacity="0.5" stroke="#4169E1" stroke-opacity="0.5" stroke-width="1">
<circle cx="1131.4" cy="895.2" r="10.5"/><circle cx="1139.8" cy="928.2" r="10.5"/><circle cx="1167.9" cy="991.7" r="10.5"/><circle cx="1173.8" cy="1024.1" r="10.5"/><circle cx="1180.0" cy="1041.8" r="10.5"/><circle cx="1289.2" cy="885.9" r="10.5"/><circle cx="1283.9" cy="923.0" r="10.5"/><circle cx="1269.7" cy="951.4" r="10.5"/><circle cx="1266.6" cy="973.1" r="10.5"/><circle cx="1264.4" cy="991.7" r="10.5"/><circle cx="1282.1" cy="937.5" r="10.5"/><circle cx="1151.5" cy="983.9" r="10.5"/><circle cx="1160.8" cy="1005.6" r="10.5"/><circle cx="1167.0" cy="1017.9" r="10.5"/><circle cx="1145.4" cy="971.5" r="10.5"/><circle cx="1136.1" cy="959.2" r="10.5"/><circle cx="1259.8" cy="1005.6" r="10.5"/><circle cx="1253.6" cy="1021.0" r="10.5"/><circle cx="1247.4" cy="1036.5" r="10.5"/><circle cx="1241.2" cy="1052.0" r="10.5"/><circle cx="1275.3" cy="943.7" r="10.5"/><circle cx="1185.6" cy="1058.1" r="10.5"/><circle cx="1235.1" cy="1064.3" r="10.5"/>
</g>
<g fill="#228B22" >
<path d="M897.0 1093.0L899.0 1087.0L904.0 1082.5L912.0 1081.0L1131.0 1080.5L1131.0 1122.5L1100.0 1122.0L1050.0 1120.0L1000.0 1116.5L950.0 1111.5L915.0 1106.5L905.0 1104.0L899.0 1099.0Z"/>
<path d="M1293.0 1080.5L1580.0 1081.0L1588.0 1083.0L1593.0 1088.0L1593.0 1094.0L1588.0 1099.0L1565.0 1105.0L1515.0 1110.0L1465.0 1114.0L1415.0 1119.0L1350.0 1122.0L1293.0 1122.7Z"/>
<circle cx="1021.6" cy="1110.1" r="11" fill-opacity="0.5"/><circle cx="1111.7" cy="1090.6" r="11" fill-opacity="0.75"/><circle cx="964.6" cy="1101.9" r="11" fill-opacity="0.75"/><circle cx="941.9" cy="1100.5" r="11" fill-opacity="0.5"/><circle cx="1035.4" cy="1109.4" r="11" fill-opacity="0.75"/><circle cx="1057.0" cy="1089.2" r="11" fill-opacity="0.75"/><circle cx="1000.0" cy="1089.1" r="11" fill-opacity="0.5"/><circle cx="989.6" cy="1091.3" r="11" fill-opacity="0.75"/><circle cx="1066.2" cy="1089.7" r="11" fill-opacity="0.75"/><circle cx="986.7" cy="1089.6" r="11" fill-opacity="0.5"/><circle cx="999.6" cy="1107.6" r="11" fill-opacity="0.75"/><circle cx="1061.1" cy="1111.2" r="11" fill-opacity="0.75"/><circle cx="913.1" cy="1090.1" r="11" fill-opacity="0.5"/><circle cx="1114.1" cy="1087.6" r="11" fill-opacity="0.75"/><circle cx="1068.3" cy="1111.2" r="11" fill-opacity="0.75"/><circle cx="1114.4" cy="1088.7" r="11" fill-opacity="0.5"/><circle cx="980.8" cy="1089.6" r="11" fill-opacity="0.75"/><circle cx="1024.1" cy="1090.5" r="11" fill-opacity="0.75"/><circle cx="1070.8" cy="1088.6" r="11" fill-opacity="0.5"/><circle cx="921.6" cy="1089.2" r="11" fill-opacity="0.75"/><circle cx="1117.2" cy="1088.8" r="11" fill-opacity="0.75"/><circle cx="947.1" cy="1102.1" r="11" fill-opacity="0.5"/><circle cx="1093.0" cy="1089.5" r="11" fill-opacity="0.75"/><circle cx="966.7" cy="1088.1" r="11" fill-opacity="0.75"/><circle cx="999.9" cy="1090.6" r="11" fill-opacity="0.5"/><circle cx="931.8" cy="1089.4" r="11" fill-opacity="0.75"/><circle cx="966.9" cy="1089.2" r="11" fill-opacity="0.75"/><circle cx="924.0" cy="1096.8" r="11" fill-opacity="0.5"/><circle cx="957.7" cy="1101.8" r="11" fill-opacity="0.75"/><circle cx="1046.8" cy="1090.0" r="11" fill-opacity="0.75"/><circle cx="1110.8" cy="1111.8" r="11" fill-opacity="0.5"/><circle cx="1009.2" cy="1109.3" r="11" fill-opacity="0.75"/><circle cx="1066.4" cy="1089.5" r="11" fill-opacity="0.75"/><circle cx="921.3" cy="1091.8" r="11" fill-opacity="0.5"/><circle cx="926.4" cy="1097.2" r="11" fill-opacity="0.75"/><circle cx="1113.5" cy="1114.4" r="11" fill-opacity="0.75"/><circle cx="906.2" cy="1091.7" r="11" fill-opacity="0.5"/><circle cx="945.1" cy="1103.3" r="11" fill-opacity="0.75"/><circle cx="912.1" cy="1088.1" r="11" fill-opacity="0.75"/><circle cx="1089.7" cy="1089.1" r="11" fill-opacity="0.5"/><circle cx="993.0" cy="1089.7" r="11" fill-opacity="0.75"/><circle cx="990.8" cy="1106.6" r="11" fill-opacity="0.75"/><circle cx="1120.7" cy="1098.7" r="11" fill-opacity="0.5"/><circle cx="968.1" cy="1103.7" r="11" fill-opacity="0.75"/><circle cx="1002.1" cy="1107.2" r="11" fill-opacity="0.75"/><circle cx="934.3" cy="1088.4" r="11" fill-opacity="0.5"/><circle cx="905.4" cy="1094.8" r="11" fill-opacity="0.75"/><circle cx="1067.0" cy="1109.9" r="11" fill-opacity="0.75"/><circle cx="1017.9" cy="1107.3" r="11" fill-opacity="0.5"/><circle cx="1059.8" cy="1087.7" r="11" fill-opacity="0.75"/><circle cx="1122.6" cy="1100.5" r="11" fill-opacity="0.75"/><circle cx="1066.0" cy="1089.4" r="11" fill-opacity="0.5"/><circle cx="1085.7" cy="1112.5" r="11" fill-opacity="0.75"/><circle cx="923.2" cy="1091.3" r="11" fill-opacity="0.75"/><circle cx="988.4" cy="1088.2" r="11" fill-opacity="0.5"/><circle cx="977.6" cy="1090.0" r="11" fill-opacity="0.75"/><circle cx="974.2" cy="1091.0" r="11" fill-opacity="0.75"/><circle cx="1023.1" cy="1107.6" r="11" fill-opacity="0.5"/><circle cx="1028.6" cy="1109.9" r="11" fill-opacity="0.75"/><circle cx="1083.6" cy="1114.3" r="11" fill-opacity="0.75"/><circle cx="1349.5" cy="1087.7" r="11" fill-opacity="0.5"/><circle cx="1482.6" cy="1102.6" r="11" fill-opacity="0.75"/><circle cx="1511.2" cy="1088.9" r="11" fill-opacity="0.75"/><circle cx="1511.5" cy="1100.2" r="11" fill-opacity="0.5"/><circle cx="1556.1" cy="1098.5" r="11" fill-opacity="0.75"/><circle cx="1539.4" cy="1099.1" r="11" fill-opacity="0.75"/><circle cx="1345.4" cy="1113.4" r="11" fill-opacity="0.5"/><circle cx="1472.5" cy="1102.6" r="11" fill-opacity="0.75"/><circle cx="1527.3" cy="1098.1" r="11" fill-opacity="0.75"/><circle cx="1577.9" cy="1093.9" r="11" fill-opacity="0.5"/><circle cx="1435.2" cy="1108.0" r="11" fill-opacity="0.75"/><circle cx="1389.3" cy="1090.6" r="11" fill-opacity="0.75"/><circle cx="1375.8" cy="1087.8" r="11" fill-opacity="0.5"/><circle cx="1515.7" cy="1090.2" r="11" fill-opacity="0.75"/><circle cx="1401.7" cy="1111.2" r="11" fill-opacity="0.75"/><circle cx="1482.9" cy="1104.2" r="11" fill-opacity="0.5"/><circle cx="1543.6" cy="1090.1" r="11" fill-opacity="0.75"/><circle cx="1543.1" cy="1098.1" r="11" fill-opacity="0.75"/><circle cx="1550.3" cy="1088.5" r="11" fill-opacity="0.5"/><circle cx="1344.5" cy="1113.5" r="11" fill-opacity="0.75"/><circle cx="1473.1" cy="1090.8" r="11" fill-opacity="0.75"/><circle cx="1334.4" cy="1090.9" r="11" fill-opacity="0.5"/><circle cx="1580.9" cy="1088.5" r="11" fill-opacity="0.75"/><circle cx="1304.6" cy="1089.3" r="11" fill-opacity="0.75"/><circle cx="1545.4" cy="1089.0" r="11" fill-opacity="0.5"/><circle cx="1407.5" cy="1090.6" r="11" fill-opacity="0.75"/><circle cx="1514.7" cy="1091.5" r="11" fill-opacity="0.75"/><circle cx="1543.8" cy="1097.7" r="11" fill-opacity="0.5"/><circle cx="1374.9" cy="1111.4" r="11" fill-opacity="0.75"/><circle cx="1479.6" cy="1102.6" r="11" fill-opacity="0.75"/><circle cx="1319.9" cy="1111.5" r="11" fill-opacity="0.5"/><circle cx="1431.8" cy="1108.3" r="11" fill-opacity="0.75"/><circle cx="1568.2" cy="1096.4" r="11" fill-opacity="0.75"/><circle cx="1300.3" cy="1089.3" r="11" fill-opacity="0.5"/><circle cx="1460.5" cy="1089.7" r="11" fill-opacity="0.75"/><circle cx="1466.2" cy="1091.8" r="11" fill-opacity="0.75"/><circle cx="1485.3" cy="1104.8" r="11" fill-opacity="0.5"/><circle cx="1478.5" cy="1104.5" r="11" fill-opacity="0.75"/><circle cx="1563.1" cy="1096.1" r="11" fill-opacity="0.75"/><circle cx="1550.4" cy="1091.1" r="11" fill-opacity="0.5"/><circle cx="1503.6" cy="1102.0" r="11" fill-opacity="0.75"/><circle cx="1515.1" cy="1100.1" r="11" fill-opacity="0.75"/><circle cx="1481.3" cy="1103.7" r="11" fill-opacity="0.5"/><circle cx="1361.2" cy="1087.8" r="11" fill-opacity="0.75"/><circle cx="1334.3" cy="1089.4" r="11" fill-opacity="0.75"/><circle cx="1503.9" cy="1091.6" r="11" fill-opacity="0.5"/><circle cx="1335.2" cy="1090.7" r="11" fill-opacity="0.75"/><circle cx="1446.4" cy="1089.3" r="11" fill-opacity="0.75"/><circle cx="1300.8" cy="1104.7" r="11" fill-opacity="0.5"/><circle cx="1382.5" cy="1090.1" r="11" fill-opacity="0.75"/><circle cx="1550.0" cy="1097.6" r="11" fill-opacity="0.75"/><circle cx="1456.7" cy="1088.1" r="11" fill-opacity="0.5"/><circle cx="1447.6" cy="1104.9" r="11" fill-opacity="0.75"/><circle cx="1463.9" cy="1103.3" r="11" fill-opacity="0.75"/><circle cx="1301.0" cy="1102.8" r="11" fill-opacity="0.5"/><circle cx="1462.0" cy="1090.5" r="11" fill-opacity="0.75"/><circle cx="1502.9" cy="1103.9" r="11" fill-opacity="0.75"/><circle cx="1473.7" cy="1102.3" r="11" fill-opacity="0.5"/><circle cx="1432.2" cy="1089.6" r="11" fill-opacity="0.75"/><circle cx="1534.4" cy="1088.1" r="11" fill-opacity="0.75"/><circle cx="1416.3" cy="1088.5" r="11" fill-opacity="0.5"/><circle cx="1505.0" cy="1103.8" r="11" fill-opacity="0.75"/><circle cx="1568.6" cy="1096.5" r="11" fill-opacity="0.75"/><circle cx="1410.1" cy="1110.9" r="11" fill-opacity="0.5"/><circle cx="1485.3" cy="1104.3" r="11" fill-opacity="0.75"/><circle cx="1369.1" cy="1114.0" r="11" fill-opacity="0.75"/><circle cx="1557.8" cy="1088.0" r="11" fill-opacity="0.5"/><circle cx="1306.1" cy="1113.9" r="11" fill-opacity="0.75"/><circle cx="1546.1" cy="1096.9" r="11" fill-opacity="0.75"/><circle cx="1373.0" cy="1088.0" r="11" fill-opacity="0.5"/>
</g>
<g fill="#228B22" fill-opacity="0.5" stroke="#228B22" stroke-opacity="0.5" stroke-width="1">
<circle cx="1539.9" cy="1110.2" r="10.5"/><circle cx="1552.9" cy="1102.7" r="10.5"/><circle cx="1570.4" cy="1100.2" r="10.5"/><circle cx="1585.4" cy="1095.2" r="10.5"/><circle cx="1613.0" cy="1088.9" r="10.5"/><circle cx="1590.5" cy="1090.2" r="10.5"/><circle cx="1726.3" cy="1094.6" r="10.5"/><circle cx="1746.9" cy="1096.1" r="10.5"/><circle cx="1633.0" cy="1107.3" r="10.5"/><circle cx="1666.8" cy="1107.3" r="10.5"/><circle cx="828.8" cy="1089.7" r="10.5"/><circle cx="843.1" cy="1107.7" r="10.5"/><circle cx="870.1" cy="1096.5" r="10.5"/><circle cx="882.6" cy="1092.7" r="10.5"/><circle cx="895.1" cy="1095.2" r="10.5"/><circle cx="890.1" cy="1099.0" r="10.5"/><circle cx="905.2" cy="1100.2" r="10.5"/><circle cx="915.2" cy="1105.2" r="10.5"/>
</g>
<g fill="#4D4D4D" >
<path d="M1130.0 1078.5L1195.0 1078.5L1212.0 1102.0L1229.0 1078.5L1294.0 1078.5L1300.0 1100.0L1298.0 1121.0L1250.0 1125.0L1212.0 1125.6L1170.0 1125.0L1126.0 1121.0L1122.0 1100.0Z"/>
<circle cx="1161.8" cy="1115.8" r="11" fill-opacity="0.5"/><circle cx="1185.7" cy="1116.0" r="11" fill-opacity="0.75"/><circle cx="1133.4" cy="1109.1" r="11" fill-opacity="0.75"/><circle cx="1175.8" cy="1117.4" r="11" fill-opacity="0.5"/><circle cx="1187.9" cy="1118.2" r="11" fill-opacity="0.75"/><circle cx="1130.9" cy="1109.2" r="11" fill-opacity="0.75"/><circle cx="1145.4" cy="1113.0" r="11" fill-opacity="0.5"/><circle cx="1151.5" cy="1113.6" r="11" fill-opacity="0.75"/><circle cx="1138.3" cy="1112.2" r="11" fill-opacity="0.75"/><circle cx="1132.9" cy="1111.2" r="11" fill-opacity="0.5"/><circle cx="1154.2" cy="1113.8" r="11" fill-opacity="0.75"/><circle cx="1132.6" cy="1114.5" r="11" fill-opacity="0.75"/><circle cx="1267.6" cy="1114.9" r="11" fill-opacity="0.5"/><circle cx="1235.4" cy="1117.9" r="11" fill-opacity="0.75"/><circle cx="1238.3" cy="1117.3" r="11" fill-opacity="0.75"/><circle cx="1257.8" cy="1115.1" r="11" fill-opacity="0.5"/><circle cx="1288.0" cy="1113.5" r="11" fill-opacity="0.75"/><circle cx="1290.5" cy="1113.5" r="11" fill-opacity="0.75"/><circle cx="1260.6" cy="1114.5" r="11" fill-opacity="0.5"/><circle cx="1251.7" cy="1117.7" r="11" fill-opacity="0.75"/><circle cx="1292.6" cy="1102.8" r="11" fill-opacity="0.75"/><circle cx="1255.0" cy="1114.9" r="11" fill-opacity="0.5"/><circle cx="1273.7" cy="1113.7" r="11" fill-opacity="0.75"/><circle cx="1244.5" cy="1115.5" r="11" fill-opacity="0.75"/>
</g>
<line x1="1130.7" x2="1130.7" y1="284.4" y2="1153.7" stroke="#000" stroke-width="1.6" stroke-dasharray="9.4 5"/>
<line x1="1293.9" x2="1293.9" y1="284.4" y2="1153.7" stroke="#000" stroke-width="1.6" stroke-dasharray="9.4 5"/>
<line x1="309.3" x2="2113" y1="1089.1" y2="1089.1" stroke="#000" stroke-width="1.6" stroke-dasharray="9.4 5"/>
<path d="M309.0 281V1153.7H2115" fill="none" stroke="#000" stroke-width="2.8" stroke-linejoin="miter"/>
<line x1="297.0" x2="309.3" y1="1115.2" y2="1115.2" stroke="#333" stroke-width="4.2"/>
<text x="286.8" y="1127.8" font-family="'Liberation Sans', sans-serif" font-size="34" font-weight="normal" text-anchor="end" fill="#4D4D4D">0</text>
<line x1="297.0" x2="309.3" y1="916.7" y2="916.7" stroke="#333" stroke-width="4.2"/>
<text x="286.8" y="929.3" font-family="'Liberation Sans', sans-serif" font-size="34" font-weight="normal" text-anchor="end" fill="#4D4D4D">10</text>
<line x1="297.0" x2="309.3" y1="718.2" y2="718.2" stroke="#333" stroke-width="4.2"/>
<text x="286.8" y="730.8" font-family="'Liberation Sans', sans-serif" font-size="34" font-weight="normal" text-anchor="end" fill="#4D4D4D">20</text>
<line x1="297.0" x2="309.3" y1="519.7" y2="519.7" stroke="#333" stroke-width="4.2"/>
<text x="286.8" y="532.3" font-family="'Liberation Sans', sans-serif" font-size="34" font-weight="normal" text-anchor="end" fill="#4D4D4D">30</text>
<line x1="297.0" x2="309.3" y1="321.2" y2="321.2" stroke="#333" stroke-width="4.2"/>
<text x="286.8" y="333.8" font-family="'Liberation Sans', sans-serif" font-size="34" font-weight="normal" text-anchor="end" fill="#4D4D4D">40</text>
<line x1="391.2" x2="391.2" y1="1153.7" y2="1165.2" stroke="#333" stroke-width="4.2"/>
<text x="390.7" y="1203.7" font-family="'Liberation Sans', sans-serif" font-size="34" font-weight="normal" text-anchor="middle" fill="#4D4D4D">-10</text>
<line x1="801.7" x2="801.7" y1="1153.7" y2="1165.2" stroke="#333" stroke-width="4.2"/>
<text x="801.2" y="1203.7" font-family="'Liberation Sans', sans-serif" font-size="34" font-weight="normal" text-anchor="middle" fill="#4D4D4D">-5</text>
<line x1="1212.2" x2="1212.2" y1="1153.7" y2="1165.2" stroke="#333" stroke-width="4.2"/>
<text x="1211.7" y="1203.7" font-family="'Liberation Sans', sans-serif" font-size="34" font-weight="normal" text-anchor="middle" fill="#4D4D4D">0</text>
<line x1="1622.7" x2="1622.7" y1="1153.7" y2="1165.2" stroke="#333" stroke-width="4.2"/>
<text x="1622.2" y="1203.7" font-family="'Liberation Sans', sans-serif" font-size="34" font-weight="normal" text-anchor="middle" fill="#4D4D4D">5</text>
<line x1="2033.2" x2="2033.2" y1="1153.7" y2="1165.2" stroke="#333" stroke-width="4.2"/>
<text x="2032.7" y="1203.7" font-family="'Liberation Sans', sans-serif" font-size="34" font-weight="normal" text-anchor="middle" fill="#4D4D4D">10</text>
</g>
<g transform="translate(183.7,757) rotate(-90)">
<text x="-4" y="0" font-family="'Liberation Sans', sans-serif" font-size="76" font-weight="bold">-Log</text>
<text x="160" y="12" font-family="'Liberation Sans', sans-serif" font-size="54" font-weight="bold">10</text>
<text x="220" y="0" font-family="'Liberation Sans', sans-serif" font-size="76" font-weight="bold" font-style="italic">P</text>
</g>
<text x="973.5" y="1303" font-family="'Liberation Sans', sans-serif" font-size="76" font-weight="bold">Log</text>
<text x="1113.5" y="1315" font-family="'Liberation Sans', sans-serif" font-size="54" font-weight="bold">2</text>
<text x="1142.0" y="1303" font-family="'Liberation Sans', sans-serif" font-size="76" font-weight="bold" textLength="420.5" lengthAdjust="spacing">fold change</text>
<text x="1715.4" y="1281.4" font-family="'Liberation Sans', sans-serif" font-size="33" font-weight="bold" textLength="397" lengthAdjust="spacing">total = 55487 variables</text>
<text x="397.3" y="2325.3" font-family="'Liberation Sans', sans-serif" font-size="75" font-weight="bold" font-style="italic">Alkbh8</text>
<text x="646.7" y="2299.8" font-family="'Liberation Sans', sans-serif" font-size="54" font-weight="bold" font-style="italic">Def</text>
<text x="726.5" y="2325.3" font-family="'Liberation Sans', sans-serif" font-size="75" font-weight="bold"> APAP vs. </text>
<text x="1094.6" y="2325.3" font-family="'Liberation Sans', sans-serif" font-size="75" font-weight="bold" font-style="italic">Alkbh8</text>
<text x="1344" y="2299.8" font-family="'Liberation Sans', sans-serif" font-size="54" font-weight="bold" font-style="italic">Def</text>
<text x="1428.5" y="2325.3" font-family="'Liberation Sans', sans-serif" font-size="75" font-weight="bold"> Saline (6 Hours)</text>
<circle cx="229" cy="2406.5" r="46" fill="#A6A6A6"/>
<circle cx="548.8" cy="2406.5" r="46" fill="#90C590"/>
<circle cx="1033" cy="2406.5" r="46" fill="#A0B4F0"/>
<circle cx="1475" cy="2406.5" r="46" fill="#F68080"/>
<text x="299.5" y="2427.9" font-family="'Liberation Sans', sans-serif" font-size="64" font-weight="bold">NS</text>
<text x="633.4" y="2427.9" font-family="'Liberation Sans', sans-serif" font-size="64" font-weight="bold">Log</text>
<text x="753.5" y="2438.9" font-family="'Liberation Sans', sans-serif" font-size="41.5" font-weight="bold">2</text>
<text x="795.1" y="2427.9" font-family="'Liberation Sans', sans-serif" font-size="64" font-weight="bold">FC</text>
<text x="1124" y="2427.9" font-family="'Liberation Sans', sans-serif" font-size="64" font-weight="bold" textLength="226" lengthAdjust="spacing">p-value</text>
<text x="1539" y="2427.9" font-family="'Liberation Sans', sans-serif" font-size="64" font-weight="bold" textLength="483" lengthAdjust="spacing">p-value and log</text>
<text x="2020.5" y="2438.9" font-family="'Liberation Sans', sans-serif" font-size="41.5" font-weight="bold">2</text>
<text x="2064.5" y="2427.9" font-family="'Liberation Sans', sans-serif" font-size="64" font-weight="bold">FC</text>
<g>
<line x1="552.5" x2="552.5" y1="2496.3" y2="3359.5" stroke="#F0F0F0" stroke-width="1.6"/>
<line x1="958.4" x2="958.4" y1="2496.3" y2="3359.5" stroke="#F0F0F0" stroke-width="1.6"/>
<line x1="1364.4" x2="1364.4" y1="2496.3" y2="3359.5" stroke="#F0F0F0" stroke-width="1.6"/>
<line x1="1770.3" x2="1770.3" y1="2496.3" y2="3359.5" stroke="#F0F0F0" stroke-width="1.6"/>
<line x1="268.3" x2="2054.4" y1="3223.2" y2="3223.2" stroke="#F0F0F0" stroke-width="1.6"/>
<line x1="268.3" x2="2054.4" y1="3027.0" y2="3027.0" stroke="#F0F0F0" stroke-width="1.6"/>
<line x1="268.3" x2="2054.4" y1="2830.7" y2="2830.7" stroke="#F0F0F0" stroke-width="1.6"/>
<line x1="268.3" x2="2054.4" y1="2634.4" y2="2634.4" stroke="#F0F0F0" stroke-width="1.6"/>
<line x1="349.5" x2="349.5" y1="2496.3" y2="3359.5" stroke="#EBEBEB" stroke-width="4"/>
<line x1="755.5" x2="755.5" y1="2496.3" y2="3359.5" stroke="#EBEBEB" stroke-width="4"/>
<line x1="1161.4" x2="1161.4" y1="2496.3" y2="3359.5" stroke="#EBEBEB" stroke-width="4"/>
<line x1="1567.4" x2="1567.4" y1="2496.3" y2="3359.5" stroke="#EBEBEB" stroke-width="4"/>
<line x1="1973.3" x2="1973.3" y1="2496.3" y2="3359.5" stroke="#EBEBEB" stroke-width="4"/>
<line x1="268.3" x2="2054.4" y1="3321.4" y2="3321.4" stroke="#EBEBEB" stroke-width="4"/>
<line x1="268.3" x2="2054.4" y1="3125.1" y2="3125.1" stroke="#EBEBEB" stroke-width="4"/>
<line x1="268.3" x2="2054.4" y1="2928.8" y2="2928.8" stroke="#EBEBEB" stroke-width="4"/>
<line x1="268.3" x2="2054.4" y1="2732.5" y2="2732.5" stroke="#EBEBEB" stroke-width="4"/>
<line x1="268.3" x2="2054.4" y1="2536.2" y2="2536.2" stroke="#EBEBEB" stroke-width="4"/>
<g fill="#EE0000" >
<path d="M1081.0 3203.0L1060.0 3207.0L1040.0 3218.0L1021.0 3229.0L1006.0 3239.0L996.0 3254.0L981.0 3269.0L969.0 3283.0L1081.0 3290.0Z"/>
<path d="M1242.0 3171.0L1263.0 3159.0L1288.0 3161.0L1304.0 3169.0L1311.0 3180.0L1313.0 3192.0L1322.0 3200.0L1318.0 3222.0L1350.0 3236.0L1355.0 3248.0L1388.0 3246.0L1395.0 3260.0L1415.0 3272.0L1430.0 3287.0L1242.0 3290.0Z"/>
<circle cx="1053.3" cy="3220.7" r="11" fill-opacity="0.5"/><circle cx="1001.1" cy="3258.6" r="11" fill-opacity="0.75"/><circle cx="1022.1" cy="3277.6" r="11" fill-opacity="0.75"/><circle cx="1047.6" cy="3219.2" r="11" fill-opacity="0.5"/><circle cx="1031.0" cy="3230.8" r="11" fill-opacity="0.75"/><circle cx="1000.1" cy="3258.5" r="11" fill-opacity="0.75"/><circle cx="1034.1" cy="3278.2" r="11" fill-opacity="0.5"/><circle cx="1074.6" cy="3258.4" r="11" fill-opacity="0.75"/><circle cx="1060.1" cy="3216.5" r="11" fill-opacity="0.75"/><circle cx="1072.9" cy="3248.3" r="11" fill-opacity="0.5"/><circle cx="998.7" cy="3262.1" r="11" fill-opacity="0.75"/><circle cx="1032.2" cy="3227.7" r="11" fill-opacity="0.75"/><circle cx="1045.3" cy="3219.0" r="11" fill-opacity="0.5"/><circle cx="1015.2" cy="3280.2" r="11" fill-opacity="0.75"/><circle cx="996.6" cy="3274.7" r="11" fill-opacity="0.75"/><circle cx="1038.1" cy="3224.3" r="11" fill-opacity="0.5"/><circle cx="1071.6" cy="3241.0" r="11" fill-opacity="0.75"/><circle cx="1074.7" cy="3257.3" r="11" fill-opacity="0.75"/><circle cx="1003.1" cy="3277.3" r="11" fill-opacity="0.5"/><circle cx="1045.3" cy="3281.2" r="11" fill-opacity="0.75"/><circle cx="1062.5" cy="3216.7" r="11" fill-opacity="0.75"/><circle cx="1022.4" cy="3234.0" r="11" fill-opacity="0.5"/><circle cx="991.0" cy="3267.1" r="11" fill-opacity="0.75"/><circle cx="1050.3" cy="3215.8" r="11" fill-opacity="0.75"/><circle cx="1049.1" cy="3281.9" r="11" fill-opacity="0.5"/><circle cx="1004.9" cy="3247.7" r="11" fill-opacity="0.75"/><circle cx="1055.2" cy="3218.5" r="11" fill-opacity="0.75"/><circle cx="1051.2" cy="3283.1" r="11" fill-opacity="0.5"/><circle cx="989.4" cy="3271.6" r="11" fill-opacity="0.75"/><circle cx="1016.6" cy="3282.6" r="11" fill-opacity="0.75"/><circle cx="1060.1" cy="3214.6" r="11" fill-opacity="0.5"/><circle cx="1072.0" cy="3278.3" r="11" fill-opacity="0.75"/><circle cx="1022.3" cy="3282.3" r="11" fill-opacity="0.75"/><circle cx="1074.9" cy="3239.0" r="11" fill-opacity="0.5"/><circle cx="1011.1" cy="3243.3" r="11" fill-opacity="0.75"/><circle cx="1074.4" cy="3268.3" r="11" fill-opacity="0.75"/><circle cx="1057.1" cy="3281.1" r="11" fill-opacity="0.5"/><circle cx="1012.3" cy="3238.7" r="11" fill-opacity="0.75"/><circle cx="1071.1" cy="3284.3" r="11" fill-opacity="0.75"/><circle cx="1056.7" cy="3280.0" r="11" fill-opacity="0.5"/><circle cx="1071.3" cy="3245.1" r="11" fill-opacity="0.75"/><circle cx="1009.1" cy="3278.0" r="11" fill-opacity="0.75"/><circle cx="1021.2" cy="3232.8" r="11" fill-opacity="0.5"/><circle cx="1014.9" cy="3280.8" r="11" fill-opacity="0.75"/><circle cx="1074.5" cy="3234.3" r="11" fill-opacity="0.75"/><circle cx="1006.4" cy="3256.1" r="11" fill-opacity="0.5"/><circle cx="994.9" cy="3278.5" r="11" fill-opacity="0.75"/><circle cx="1032.9" cy="3230.4" r="11" fill-opacity="0.75"/><circle cx="1041.8" cy="3278.2" r="11" fill-opacity="0.5"/><circle cx="1032.7" cy="3283.7" r="11" fill-opacity="0.75"/><circle cx="1413.3" cy="3276.7" r="11" fill-opacity="0.75"/><circle cx="1261.0" cy="3282.4" r="11" fill-opacity="0.5"/><circle cx="1366.7" cy="3253.2" r="11" fill-opacity="0.75"/><circle cx="1272.6" cy="3282.3" r="11" fill-opacity="0.75"/><circle cx="1383.3" cy="3283.4" r="11" fill-opacity="0.5"/><circle cx="1303.9" cy="3188.1" r="11" fill-opacity="0.75"/><circle cx="1348.0" cy="3239.8" r="11" fill-opacity="0.75"/><circle cx="1248.5" cy="3271.4" r="11" fill-opacity="0.5"/><circle cx="1306.5" cy="3280.9" r="11" fill-opacity="0.75"/><circle cx="1275.8" cy="3163.1" r="11" fill-opacity="0.75"/><circle cx="1352.0" cy="3253.6" r="11" fill-opacity="0.5"/><circle cx="1250.3" cy="3170.1" r="11" fill-opacity="0.75"/><circle cx="1310.6" cy="3214.5" r="11" fill-opacity="0.75"/><circle cx="1249.9" cy="3175.7" r="11" fill-opacity="0.5"/><circle cx="1277.1" cy="3279.7" r="11" fill-opacity="0.75"/><circle cx="1248.9" cy="3246.0" r="11" fill-opacity="0.75"/><circle cx="1379.6" cy="3252.7" r="11" fill-opacity="0.5"/><circle cx="1274.9" cy="3282.3" r="11" fill-opacity="0.75"/><circle cx="1382.5" cy="3254.4" r="11" fill-opacity="0.75"/><circle cx="1358.3" cy="3254.1" r="11" fill-opacity="0.5"/><circle cx="1333.6" cy="3283.9" r="11" fill-opacity="0.75"/><circle cx="1250.5" cy="3220.6" r="11" fill-opacity="0.75"/><circle cx="1322.2" cy="3234.2" r="11" fill-opacity="0.5"/><circle cx="1391.1" cy="3264.1" r="11" fill-opacity="0.75"/><circle cx="1311.2" cy="3207.6" r="11" fill-opacity="0.75"/><circle cx="1326.2" cy="3279.7" r="11" fill-opacity="0.5"/><circle cx="1250.1" cy="3245.2" r="11" fill-opacity="0.75"/><circle cx="1249.7" cy="3204.8" r="11" fill-opacity="0.75"/><circle cx="1281.1" cy="3168.1" r="11" fill-opacity="0.5"/><circle cx="1250.7" cy="3261.5" r="11" fill-opacity="0.75"/><circle cx="1357.3" cy="3279.1" r="11" fill-opacity="0.75"/><circle cx="1337.0" cy="3279.7" r="11" fill-opacity="0.5"/><circle cx="1357.5" cy="3250.9" r="11" fill-opacity="0.75"/><circle cx="1313.0" cy="3201.5" r="11" fill-opacity="0.75"/><circle cx="1282.2" cy="3164.0" r="11" fill-opacity="0.5"/><circle cx="1308.2" cy="3187.2" r="11" fill-opacity="0.75"/><circle cx="1277.3" cy="3165.4" r="11" fill-opacity="0.75"/><circle cx="1307.4" cy="3284.1" r="11" fill-opacity="0.5"/><circle cx="1276.0" cy="3166.1" r="11" fill-opacity="0.75"/><circle cx="1392.9" cy="3269.0" r="11" fill-opacity="0.75"/><circle cx="1370.3" cy="3284.5" r="11" fill-opacity="0.5"/><circle cx="1257.0" cy="3166.7" r="11" fill-opacity="0.75"/><circle cx="1272.7" cy="3284.7" r="11" fill-opacity="0.75"/><circle cx="1290.7" cy="3284.8" r="11" fill-opacity="0.5"/><circle cx="1398.6" cy="3269.8" r="11" fill-opacity="0.75"/><circle cx="1360.6" cy="3283.9" r="11" fill-opacity="0.75"/><circle cx="1401.9" cy="3269.5" r="11" fill-opacity="0.5"/><circle cx="1254.6" cy="3280.3" r="11" fill-opacity="0.75"/><circle cx="1393.5" cy="3267.9" r="11" fill-opacity="0.75"/><circle cx="1356.1" cy="3255.9" r="11" fill-opacity="0.5"/><circle cx="1253.2" cy="3170.3" r="11" fill-opacity="0.75"/><circle cx="1310.1" cy="3216.0" r="11" fill-opacity="0.75"/><circle cx="1250.3" cy="3191.3" r="11" fill-opacity="0.5"/><circle cx="1348.4" cy="3284.3" r="11" fill-opacity="0.75"/><circle cx="1315.3" cy="3208.4" r="11" fill-opacity="0.75"/><circle cx="1406.8" cy="3279.0" r="11" fill-opacity="0.5"/><circle cx="1282.8" cy="3279.9" r="11" fill-opacity="0.75"/><circle cx="1378.9" cy="3250.6" r="11" fill-opacity="0.75"/><circle cx="1264.7" cy="3163.2" r="11" fill-opacity="0.5"/><circle cx="1345.0" cy="3241.5" r="11" fill-opacity="0.75"/>
</g>
<g fill="#EE0000" fill-opacity="0.5" stroke="#EE0000" stroke-opacity="0.5" stroke-width="1">
<circle cx="1394.7" cy="2543.0" r="10.5"/><circle cx="1348.7" cy="2659.7" r="10.5"/><circle cx="1645.6" cy="2669.7" r="10.5"/><circle cx="1501.4" cy="2724.8" r="10.5"/><circle cx="1364.2" cy="2782.4" r="10.5"/><circle cx="1357.2" cy="2808.4" r="10.5"/><circle cx="1531.5" cy="2812.5" r="10.5"/><circle cx="1348.7" cy="2838.5" r="10.5"/><circle cx="1508.4" cy="2883.1" r="10.5"/><circle cx="1370.2" cy="2897.1" r="10.5"/><circle cx="1494.4" cy="2898.6" r="10.5"/><circle cx="1501.4" cy="2896.6" r="10.5"/><circle cx="1430.3" cy="2906.1" r="10.5"/><circle cx="1364.2" cy="2913.1" r="10.5"/><circle cx="1398.3" cy="2923.6" r="10.5"/><circle cx="1410.3" cy="2925.6" r="10.5"/><circle cx="1459.3" cy="2924.6" r="10.5"/><circle cx="1300.6" cy="2937.6" r="10.5"/><circle cx="1296.1" cy="2944.7" r="10.5"/><circle cx="1861.9" cy="2942.1" r="10.5"/><circle cx="1417.8" cy="2954.3" r="10.5"/><circle cx="1292.6" cy="2982.5" r="10.5"/><circle cx="1338.6" cy="3001.3" r="10.5"/><circle cx="1367.2" cy="3006.3" r="10.5"/><circle cx="1370.2" cy="3016.3" r="10.5"/><circle cx="1377.2" cy="3027.1" r="10.5"/><circle cx="1394.0" cy="2992.6" r="10.5"/><circle cx="1403.5" cy="3001.3" r="10.5"/><circle cx="1413.8" cy="2986.8" r="10.5"/><circle cx="1465.3" cy="3004.1" r="10.5"/><circle cx="1284.6" cy="3012.6" r="10.5"/><circle cx="1289.6" cy="3015.8" r="10.5"/><circle cx="1315.6" cy="3016.9" r="10.5"/><circle cx="1409.5" cy="3024.4" r="10.5"/><circle cx="1444.1" cy="3027.1" r="10.5"/><circle cx="1399.0" cy="3037.4" r="10.5"/><circle cx="1246.8" cy="3035.9" r="10.5"/><circle cx="1278.1" cy="3032.6" r="10.5"/><circle cx="1321.4" cy="3044.6" r="10.5"/><circle cx="1328.1" cy="3053.9" r="10.5"/><circle cx="1340.2" cy="3037.1" r="10.5"/><circle cx="1342.7" cy="3046.4" r="10.5"/><circle cx="1356.4" cy="3040.1" r="10.5"/><circle cx="1265.0" cy="3052.7" r="10.5"/><circle cx="1275.1" cy="3054.7" r="10.5"/><circle cx="1281.3" cy="3055.2" r="10.5"/><circle cx="1293.8" cy="3055.7" r="10.5"/><circle cx="1311.4" cy="3061.4" r="10.5"/><circle cx="1312.6" cy="3067.7" r="10.5"/><circle cx="1270.0" cy="3070.2" r="10.5"/><circle cx="1283.8" cy="3075.2" r="10.5"/><circle cx="1293.8" cy="3080.2" r="10.5"/><circle cx="1301.3" cy="3078.9" r="10.5"/><circle cx="1320.1" cy="3077.7" r="10.5"/><circle cx="1322.6" cy="3084.0" r="10.5"/><circle cx="1347.2" cy="3072.7" r="10.5"/><circle cx="1362.7" cy="3061.4" r="10.5"/><circle cx="1364.7" cy="3071.4" r="10.5"/><circle cx="1356.4" cy="3084.0" r="10.5"/><circle cx="1338.9" cy="3087.2" r="10.5"/><circle cx="1342.7" cy="3091.5" r="10.5"/><circle cx="1345.2" cy="3095.2" r="10.5"/><circle cx="1351.9" cy="3105.2" r="10.5"/><circle cx="1247.5" cy="3084.7" r="10.5"/><circle cx="1271.3" cy="3086.5" r="10.5"/><circle cx="1287.6" cy="3082.7" r="10.5"/><circle cx="1429.5" cy="3081.9" r="10.5"/><circle cx="1389.7" cy="3096.5" r="10.5"/><circle cx="1392.7" cy="3099.0" r="10.5"/><circle cx="1405.2" cy="3105.2" r="10.5"/><circle cx="1380.7" cy="3110.2" r="10.5"/><circle cx="1381.7" cy="3120.3" r="10.5"/><circle cx="1273.8" cy="3102.7" r="10.5"/><circle cx="1277.6" cy="3106.5" r="10.5"/><circle cx="1282.6" cy="3112.7" r="10.5"/><circle cx="1286.3" cy="3120.3" r="10.5"/><circle cx="1295.1" cy="3110.2" r="10.5"/><circle cx="1290.1" cy="3095.2" r="10.5"/><circle cx="1256.3" cy="3120.3" r="10.5"/><circle cx="1255.0" cy="3130.3" r="10.5"/><circle cx="1252.5" cy="3137.8" r="10.5"/><circle cx="1321.4" cy="3112.2" r="10.5"/><circle cx="1326.4" cy="3117.8" r="10.5"/><circle cx="1332.6" cy="3114.0" r="10.5"/><circle cx="1327.6" cy="3125.3" r="10.5"/><circle cx="1330.1" cy="3129.0" r="10.5"/><circle cx="1347.7" cy="3126.5" r="10.5"/><circle cx="1298.8" cy="3135.3" r="10.5"/><circle cx="1301.3" cy="3141.5" r="10.5"/><circle cx="1290.1" cy="3130.3" r="10.5"/><circle cx="1429.5" cy="3129.5" r="10.5"/><circle cx="1465.3" cy="3121.0" r="10.5"/><circle cx="1527.4" cy="3129.5" r="10.5"/><circle cx="1510.2" cy="3139.8" r="10.5"/><circle cx="1546.0" cy="3137.8" r="10.5"/><circle cx="1555.0" cy="3148.3" r="10.5"/><circle cx="1376.5" cy="3137.8" r="10.5"/><circle cx="1381.5" cy="3141.5" r="10.5"/><circle cx="1395.2" cy="3154.1" r="10.5"/><circle cx="1385.2" cy="3156.6" r="10.5"/><circle cx="1366.4" cy="3156.6" r="10.5"/><circle cx="1367.7" cy="3165.3" r="10.5"/><circle cx="1385.2" cy="3167.8" r="10.5"/><circle cx="1412.8" cy="3157.3" r="10.5"/><circle cx="1417.8" cy="3157.8" r="10.5"/><circle cx="1434.0" cy="3154.1" r="10.5"/><circle cx="1436.5" cy="3164.1" r="10.5"/><circle cx="1427.8" cy="3172.8" r="10.5"/><circle cx="1272.5" cy="3145.3" r="10.5"/><circle cx="1265.0" cy="3150.3" r="10.5"/><circle cx="1275.1" cy="3157.8" r="10.5"/><circle cx="1285.1" cy="3162.8" r="10.5"/><circle cx="1297.6" cy="3162.8" r="10.5"/><circle cx="1315.1" cy="3152.8" r="10.5"/><circle cx="1320.1" cy="3154.1" r="10.5"/><circle cx="1341.4" cy="3153.3" r="10.5"/><circle cx="1340.2" cy="3170.3" r="10.5"/><circle cx="1327.6" cy="3170.3" r="10.5"/><circle cx="1315.1" cy="3170.3" r="10.5"/><circle cx="1305.1" cy="3175.3" r="10.5"/><circle cx="1521.7" cy="3175.3" r="10.5"/><circle cx="1362.7" cy="3202.6" r="10.5"/><circle cx="1377.7" cy="3213.8" r="10.5"/><circle cx="1391.5" cy="3210.1" r="10.5"/><circle cx="1406.5" cy="3210.1" r="10.5"/><circle cx="1399.0" cy="3221.3" r="10.5"/><circle cx="1400.2" cy="3225.1" r="10.5"/><circle cx="1436.0" cy="3216.3" r="10.5"/><circle cx="1435.8" cy="3227.6" r="10.5"/><circle cx="1455.3" cy="3217.6" r="10.5"/><circle cx="1559.2" cy="3217.6" r="10.5"/><circle cx="1527.9" cy="3202.6" r="10.5"/><circle cx="1520.4" cy="3192.5" r="10.5"/><circle cx="1521.7" cy="3182.5" r="10.5"/><circle cx="1484.1" cy="3183.0" r="10.5"/><circle cx="1481.6" cy="3186.3" r="10.5"/><circle cx="1367.7" cy="3240.1" r="10.5"/><circle cx="1375.2" cy="3237.6" r="10.5"/><circle cx="1382.7" cy="3242.6" r="10.5"/><circle cx="1404.0" cy="3246.4" r="10.5"/><circle cx="1430.3" cy="3245.1" r="10.5"/><circle cx="1434.0" cy="3255.1" r="10.5"/><circle cx="1445.3" cy="3256.4" r="10.5"/><circle cx="1410.3" cy="3257.6" r="10.5"/><circle cx="1415.3" cy="3265.2" r="10.5"/><circle cx="1425.3" cy="3270.2" r="10.5"/><circle cx="1440.3" cy="3275.2" r="10.5"/><circle cx="1455.3" cy="3267.7" r="10.5"/><circle cx="1475.4" cy="3265.2" r="10.5"/><circle cx="1479.1" cy="3262.7" r="10.5"/><circle cx="1497.9" cy="3253.1" r="10.5"/><circle cx="1512.2" cy="3248.1" r="10.5"/><circle cx="1517.2" cy="3266.4" r="10.5"/><circle cx="1539.2" cy="3267.7" r="10.5"/><circle cx="1545.0" cy="3235.1" r="10.5"/><circle cx="1543.0" cy="3245.1" r="10.5"/><circle cx="1553.0" cy="3252.6" r="10.5"/><circle cx="1573.0" cy="3240.1" r="10.5"/><circle cx="1490.4" cy="3280.2" r="10.5"/><circle cx="1497.9" cy="3285.2" r="10.5"/><circle cx="1515.4" cy="3285.2" r="10.5"/><circle cx="1520.4" cy="3290.2" r="10.5"/><circle cx="1530.4" cy="3285.2" r="10.5"/><circle cx="1536.7" cy="3283.9" r="10.5"/><circle cx="1553.0" cy="3290.2" r="10.5"/><circle cx="1560.5" cy="3282.7" r="10.5"/><circle cx="1568.0" cy="3277.7" r="10.5"/><circle cx="1575.5" cy="3280.2" r="10.5"/><circle cx="1465.3" cy="3290.2" r="10.5"/><circle cx="1445.3" cy="3285.2" r="10.5"/><circle cx="1435.3" cy="3290.2" r="10.5"/><circle cx="1337.6" cy="3205.1" r="10.5"/><circle cx="1340.2" cy="3217.6" r="10.5"/><circle cx="1345.2" cy="3225.1" r="10.5"/><circle cx="1335.1" cy="3235.1" r="10.5"/><circle cx="1347.7" cy="3240.1" r="10.5"/><circle cx="1325.1" cy="3232.6" r="10.5"/><circle cx="1342.7" cy="3195.1" r="10.5"/><circle cx="1340.2" cy="3182.5" r="10.5"/><circle cx="1426.5" cy="3181.3" r="10.5"/><circle cx="1435.3" cy="3182.5" r="10.5"/><circle cx="1456.6" cy="3295.2" r="10.5"/><circle cx="1497.9" cy="3296.5" r="10.5"/><circle cx="1599.7" cy="2991.3" r="10.5"/><circle cx="1807.0" cy="3017.2" r="10.5"/><circle cx="1589.5" cy="3085.9" r="10.5"/><circle cx="1602.7" cy="3105.1" r="10.5"/><circle cx="1696.2" cy="3084.8" r="10.5"/><circle cx="1687.5" cy="3150.9" r="10.5"/><circle cx="1592.5" cy="3171.2" r="10.5"/><circle cx="1654.5" cy="3176.0" r="10.5"/><circle cx="1729.2" cy="3167.0" r="10.5"/><circle cx="1773.9" cy="3187.3" r="10.5"/><circle cx="1742.4" cy="3210.2" r="10.5"/><circle cx="1789.7" cy="3221.9" r="10.5"/><circle cx="1687.2" cy="3208.7" r="10.5"/><circle cx="1691.7" cy="3219.2" r="10.5"/><circle cx="1582.0" cy="3229.7" r="10.5"/><circle cx="1612.4" cy="3229.0" r="10.5"/><circle cx="1674.4" cy="3239.1" r="10.5"/><circle cx="1684.5" cy="3241.8" r="10.5"/><circle cx="1581.3" cy="3253.0" r="10.5"/><circle cx="1598.2" cy="3259.4" r="10.5"/><circle cx="1637.6" cy="3254.9" r="10.5"/><circle cx="1655.6" cy="3259.4" r="10.5"/><circle cx="1661.3" cy="3266.2" r="10.5"/><circle cx="1696.2" cy="3263.5" r="10.5"/><circle cx="1619.6" cy="3269.2" r="10.5"/><circle cx="1616.9" cy="3275.6" r="10.5"/><circle cx="1638.7" cy="3273.7" r="10.5"/><circle cx="1592.5" cy="3273.7" r="10.5"/><circle cx="992.5" cy="2975.3" r="10.5"/><circle cx="934.7" cy="2991.1" r="10.5"/><circle cx="960.7" cy="3015.6" r="10.5"/><circle cx="971.5" cy="3031.6" r="10.5"/><circle cx="984.0" cy="3027.1" r="10.5"/><circle cx="1011.3" cy="3012.6" r="10.5"/><circle cx="832.5" cy="3037.4" r="10.5"/><circle cx="865.6" cy="3081.9" r="10.5"/><circle cx="976.5" cy="3074.2" r="10.5"/><circle cx="973.7" cy="3092.2" r="10.5"/><circle cx="1046.6" cy="3061.2" r="10.5"/><circle cx="1063.4" cy="3058.7" r="10.5"/><circle cx="1054.6" cy="3075.2" r="10.5"/><circle cx="1022.8" cy="3086.5" r="10.5"/><circle cx="1014.0" cy="3091.5" r="10.5"/><circle cx="1034.1" cy="3090.2" r="10.5"/><circle cx="1047.8" cy="3089.0" r="10.5"/><circle cx="1012.8" cy="3105.2" r="10.5"/><circle cx="1027.8" cy="3106.5" r="10.5"/><circle cx="1037.8" cy="3100.2" r="10.5"/><circle cx="1054.6" cy="3109.2" r="10.5"/><circle cx="991.0" cy="3113.7" r="10.5"/><circle cx="941.7" cy="3126.8" r="10.5"/><circle cx="1032.8" cy="3122.8" r="10.5"/><circle cx="1035.3" cy="3127.8" r="10.5"/><circle cx="1020.3" cy="3134.0" r="10.5"/><circle cx="1032.3" cy="3137.8" r="10.5"/><circle cx="1012.3" cy="3145.3" r="10.5"/><circle cx="1071.6" cy="3136.5" r="10.5"/><circle cx="1049.8" cy="3147.8" r="10.5"/><circle cx="1060.4" cy="3150.3" r="10.5"/><circle cx="1066.6" cy="3156.6" r="10.5"/><circle cx="1045.3" cy="3155.3" r="10.5"/><circle cx="1050.3" cy="3152.8" r="10.5"/><circle cx="1037.8" cy="3162.8" r="10.5"/><circle cx="1009.5" cy="3168.3" r="10.5"/><circle cx="1010.3" cy="3168.8" r="10.5"/><circle cx="953.5" cy="3166.8" r="10.5"/><circle cx="920.2" cy="3179.1" r="10.5"/><circle cx="1027.8" cy="3175.3" r="10.5"/><circle cx="1050.3" cy="3175.3" r="10.5"/><circle cx="1075.4" cy="3170.3" r="10.5"/><circle cx="825.5" cy="3195.8" r="10.5"/><circle cx="907.6" cy="3204.6" r="10.5"/><circle cx="919.1" cy="3207.1" r="10.5"/><circle cx="930.2" cy="3223.1" r="10.5"/><circle cx="944.4" cy="3223.1" r="10.5"/><circle cx="957.2" cy="3215.6" r="10.5"/><circle cx="970.2" cy="3213.8" r="10.5"/><circle cx="971.5" cy="3206.3" r="10.5"/><circle cx="985.2" cy="3193.8" r="10.5"/><circle cx="987.8" cy="3202.6" r="10.5"/><circle cx="991.5" cy="3206.3" r="10.5"/><circle cx="1012.3" cy="3210.1" r="10.5"/><circle cx="1014.0" cy="3213.8" r="10.5"/><circle cx="995.3" cy="3230.1" r="10.5"/><circle cx="1001.5" cy="3232.6" r="10.5"/><circle cx="977.7" cy="3240.1" r="10.5"/><circle cx="943.4" cy="3242.1" r="10.5"/><circle cx="964.0" cy="3250.1" r="10.5"/><circle cx="970.2" cy="3253.9" r="10.5"/><circle cx="977.7" cy="3252.6" r="10.5"/><circle cx="894.1" cy="3255.9" r="10.5"/><circle cx="894.6" cy="3267.2" r="10.5"/><circle cx="913.9" cy="3257.6" r="10.5"/><circle cx="925.2" cy="3254.6" r="10.5"/><circle cx="942.7" cy="3263.9" r="10.5"/><circle cx="927.7" cy="3272.7" r="10.5"/><circle cx="932.7" cy="3277.7" r="10.5"/><circle cx="940.2" cy="3272.7" r="10.5"/><circle cx="950.2" cy="3275.2" r="10.5"/><circle cx="960.2" cy="3277.7" r="10.5"/><circle cx="962.7" cy="3265.2" r="10.5"/><circle cx="922.7" cy="3282.7" r="10.5"/><circle cx="920.2" cy="3290.2" r="10.5"/><circle cx="839.5" cy="3293.7" r="10.5"/><circle cx="867.6" cy="3290.7" r="10.5"/><circle cx="1025.3" cy="3197.6" r="10.5"/><circle cx="1035.3" cy="3202.6" r="10.5"/><circle cx="1045.3" cy="3197.6" r="10.5"/><circle cx="1055.4" cy="3200.1" r="10.5"/><circle cx="1067.9" cy="3197.6" r="10.5"/><circle cx="1025.3" cy="3182.5" r="10.5"/><circle cx="1032.8" cy="3185.0" r="10.5"/><circle cx="1045.3" cy="3183.8" r="10.5"/><circle cx="1060.4" cy="3187.5" r="10.5"/><circle cx="1015.3" cy="3220.1" r="10.5"/><circle cx="1025.3" cy="3217.6" r="10.5"/><circle cx="689.6" cy="3257.7" r="10.5"/><circle cx="761.7" cy="3213.0" r="10.5"/><circle cx="1053.4" cy="3205.2" r="10.5"/><circle cx="986.1" cy="3254.7" r="10.5"/><circle cx="989.8" cy="3258.3" r="10.5"/><circle cx="972.7" cy="3236.1" r="10.5"/><circle cx="1069.2" cy="3180.3" r="10.5"/><circle cx="964.1" cy="3271.5" r="10.5"/><circle cx="961.2" cy="3281.6" r="10.5"/><circle cx="969.5" cy="3281.2" r="10.5"/><circle cx="967.6" cy="3256.2" r="10.5"/><circle cx="991.2" cy="3257.9" r="10.5"/><circle cx="954.4" cy="3270.0" r="10.5"/><circle cx="964.1" cy="3244.4" r="10.5"/><circle cx="973.9" cy="3246.2" r="10.5"/><circle cx="990.0" cy="3257.0" r="10.5"/><circle cx="1032.1" cy="3218.9" r="10.5"/><circle cx="1020.9" cy="3197.0" r="10.5"/><circle cx="1054.7" cy="3195.1" r="10.5"/><circle cx="972.1" cy="3255.0" r="10.5"/><circle cx="975.2" cy="3274.1" r="10.5"/><circle cx="997.9" cy="3231.2" r="10.5"/><circle cx="997.7" cy="3237.6" r="10.5"/><circle cx="1051.3" cy="3206.8" r="10.5"/><circle cx="1006.8" cy="3235.0" r="10.5"/><circle cx="989.0" cy="3251.7" r="10.5"/><circle cx="1054.4" cy="3208.5" r="10.5"/><circle cx="1041.8" cy="3201.3" r="10.5"/><circle cx="968.8" cy="3267.5" r="10.5"/><circle cx="1014.2" cy="3228.7" r="10.5"/><circle cx="1023.2" cy="3208.1" r="10.5"/><circle cx="1014.9" cy="3230.1" r="10.5"/><circle cx="979.3" cy="3254.5" r="10.5"/><circle cx="968.2" cy="3278.1" r="10.5"/><circle cx="994.7" cy="3245.2" r="10.5"/><circle cx="1071.0" cy="3204.6" r="10.5"/><circle cx="977.7" cy="3256.9" r="10.5"/><circle cx="991.5" cy="3252.3" r="10.5"/><circle cx="1053.0" cy="3200.9" r="10.5"/><circle cx="983.4" cy="3261.4" r="10.5"/><circle cx="1003.0" cy="3242.4" r="10.5"/><circle cx="1008.3" cy="3231.0" r="10.5"/><circle cx="980.0" cy="3251.1" r="10.5"/><circle cx="1017.4" cy="3216.2" r="10.5"/><circle cx="964.9" cy="3244.7" r="10.5"/><circle cx="1020.7" cy="3204.3" r="10.5"/><circle cx="1002.2" cy="3242.7" r="10.5"/><circle cx="1063.3" cy="3193.9" r="10.5"/><circle cx="988.5" cy="3251.3" r="10.5"/><circle cx="1043.9" cy="3197.3" r="10.5"/><circle cx="989.9" cy="3258.3" r="10.5"/><circle cx="1028.5" cy="3223.4" r="10.5"/><circle cx="1352.7" cy="3232.8" r="10.5"/><circle cx="1324.0" cy="3222.6" r="10.5"/><circle cx="1336.5" cy="3201.9" r="10.5"/><circle cx="1435.3" cy="3280.2" r="10.5"/><circle cx="1324.6" cy="3199.4" r="10.5"/><circle cx="1403.6" cy="3263.7" r="10.5"/><circle cx="1311.6" cy="3175.0" r="10.5"/><circle cx="1318.6" cy="3188.4" r="10.5"/><circle cx="1353.6" cy="3218.9" r="10.5"/><circle cx="1321.3" cy="3207.9" r="10.5"/><circle cx="1386.2" cy="3242.1" r="10.5"/><circle cx="1314.0" cy="3144.5" r="10.5"/><circle cx="1345.2" cy="3223.8" r="10.5"/><circle cx="1411.1" cy="3235.5" r="10.5"/><circle cx="1392.1" cy="3253.3" r="10.5"/><circle cx="1449.1" cy="3280.3" r="10.5"/><circle cx="1347.6" cy="3216.4" r="10.5"/><circle cx="1324.8" cy="3223.0" r="10.5"/><circle cx="1323.4" cy="3176.8" r="10.5"/><circle cx="1255.1" cy="3145.6" r="10.5"/><circle cx="1423.5" cy="3269.6" r="10.5"/><circle cx="1316.7" cy="3186.1" r="10.5"/><circle cx="1358.2" cy="3247.4" r="10.5"/><circle cx="1318.7" cy="3186.3" r="10.5"/><circle cx="1403.1" cy="3261.2" r="10.5"/><circle cx="1398.9" cy="3254.5" r="10.5"/><circle cx="1423.6" cy="3256.1" r="10.5"/><circle cx="1341.7" cy="3229.7" r="10.5"/><circle cx="1399.6" cy="3235.7" r="10.5"/><circle cx="1329.0" cy="3195.2" r="10.5"/><circle cx="1268.3" cy="3157.7" r="10.5"/><circle cx="1402.7" cy="3261.0" r="10.5"/><circle cx="1322.2" cy="3170.3" r="10.5"/><circle cx="1327.6" cy="3225.8" r="10.5"/><circle cx="1430.0" cy="3266.2" r="10.5"/><circle cx="1271.4" cy="3151.9" r="10.5"/><circle cx="1326.4" cy="3223.9" r="10.5"/><circle cx="1333.8" cy="3202.6" r="10.5"/><circle cx="1382.5" cy="3243.9" r="10.5"/><circle cx="1315.5" cy="3168.8" r="10.5"/><circle cx="1328.5" cy="3223.7" r="10.5"/><circle cx="1362.7" cy="3229.3" r="10.5"/><circle cx="1326.6" cy="3194.4" r="10.5"/><circle cx="1398.5" cy="3228.7" r="10.5"/><circle cx="1323.0" cy="3186.1" r="10.5"/><circle cx="1380.8" cy="3242.8" r="10.5"/><circle cx="1402.9" cy="3263.9" r="10.5"/><circle cx="1339.2" cy="3210.9" r="10.5"/><circle cx="1426.6" cy="3280.2" r="10.5"/><circle cx="1310.6" cy="3165.3" r="10.5"/><circle cx="1328.4" cy="3194.3" r="10.5"/><circle cx="1278.2" cy="3148.2" r="10.5"/><circle cx="1285.4" cy="3158.6" r="10.5"/><circle cx="1407.7" cy="3261.0" r="10.5"/><circle cx="1426.6" cy="3273.8" r="10.5"/>
</g>
<g fill="#4169E1" >
<path d="M1081.0 3168.0L1086.4 3170.0L1100.0 3182.7L1107.7 3192.7L1110.0 3207.7L1112.7 3222.7L1117.7 3240.0L1122.7 3255.0L1132.7 3267.8L1142.7 3280.0L1149.0 3290.0L1081.0 3290.0Z"/>
<path d="M1179.0 3290.0L1185.0 3268.0L1190.0 3250.0L1198.0 3230.0L1200.0 3220.0L1213.0 3216.0L1216.0 3200.0L1214.0 3178.0L1225.0 3163.0L1242.0 3155.0L1242.0 3290.0Z"/>
<circle cx="1089.0" cy="3253.6" r="11" fill-opacity="0.5"/><circle cx="1123.4" cy="3266.8" r="11" fill-opacity="0.75"/><circle cx="1096.8" cy="3190.2" r="11" fill-opacity="0.75"/><circle cx="1087.0" cy="3197.7" r="11" fill-opacity="0.5"/><circle cx="1086.7" cy="3200.9" r="11" fill-opacity="0.75"/><circle cx="1092.8" cy="3281.3" r="11" fill-opacity="0.75"/><circle cx="1100.5" cy="3208.7" r="11" fill-opacity="0.5"/><circle cx="1098.8" cy="3283.1" r="11" fill-opacity="0.75"/><circle cx="1102.0" cy="3201.7" r="11" fill-opacity="0.75"/><circle cx="1113.9" cy="3244.8" r="11" fill-opacity="0.5"/><circle cx="1106.8" cy="3219.5" r="11" fill-opacity="0.75"/><circle cx="1089.6" cy="3271.9" r="11" fill-opacity="0.75"/><circle cx="1099.0" cy="3199.3" r="11" fill-opacity="0.5"/><circle cx="1103.3" cy="3284.6" r="11" fill-opacity="0.75"/><circle cx="1121.0" cy="3263.0" r="11" fill-opacity="0.75"/><circle cx="1114.3" cy="3242.6" r="11" fill-opacity="0.5"/><circle cx="1112.4" cy="3238.2" r="11" fill-opacity="0.75"/><circle cx="1109.1" cy="3236.2" r="11" fill-opacity="0.75"/><circle cx="1090.6" cy="3227.5" r="11" fill-opacity="0.5"/><circle cx="1087.5" cy="3266.0" r="11" fill-opacity="0.75"/><circle cx="1125.2" cy="3283.1" r="11" fill-opacity="0.75"/><circle cx="1086.7" cy="3212.2" r="11" fill-opacity="0.5"/><circle cx="1126.7" cy="3275.5" r="11" fill-opacity="0.75"/><circle cx="1088.3" cy="3267.6" r="11" fill-opacity="0.75"/><circle cx="1108.3" cy="3241.6" r="11" fill-opacity="0.5"/><circle cx="1090.0" cy="3259.0" r="11" fill-opacity="0.75"/><circle cx="1088.5" cy="3268.2" r="11" fill-opacity="0.75"/><circle cx="1122.7" cy="3270.1" r="11" fill-opacity="0.5"/><circle cx="1109.3" cy="3233.9" r="11" fill-opacity="0.75"/><circle cx="1106.7" cy="3214.5" r="11" fill-opacity="0.75"/><circle cx="1105.4" cy="3212.3" r="11" fill-opacity="0.5"/><circle cx="1118.8" cy="3257.9" r="11" fill-opacity="0.75"/><circle cx="1120.8" cy="3263.6" r="11" fill-opacity="0.75"/><circle cx="1086.7" cy="3223.3" r="11" fill-opacity="0.5"/><circle cx="1087.6" cy="3206.5" r="11" fill-opacity="0.75"/><circle cx="1087.6" cy="3221.3" r="11" fill-opacity="0.75"/><circle cx="1110.4" cy="3281.8" r="11" fill-opacity="0.5"/><circle cx="1121.0" cy="3268.3" r="11" fill-opacity="0.75"/><circle cx="1137.0" cy="3279.8" r="11" fill-opacity="0.75"/><circle cx="1090.0" cy="3197.5" r="11" fill-opacity="0.5"/><circle cx="1196.1" cy="3263.0" r="11" fill-opacity="0.75"/><circle cx="1203.7" cy="3282.8" r="11" fill-opacity="0.75"/><circle cx="1215.1" cy="3281.6" r="11" fill-opacity="0.5"/><circle cx="1221.2" cy="3220.3" r="11" fill-opacity="0.75"/><circle cx="1234.7" cy="3208.8" r="11" fill-opacity="0.75"/><circle cx="1218.8" cy="3208.4" r="11" fill-opacity="0.5"/><circle cx="1234.9" cy="3162.8" r="11" fill-opacity="0.75"/><circle cx="1186.9" cy="3281.6" r="11" fill-opacity="0.75"/><circle cx="1236.2" cy="3197.8" r="11" fill-opacity="0.5"/><circle cx="1225.0" cy="3205.4" r="11" fill-opacity="0.75"/><circle cx="1217.3" cy="3217.8" r="11" fill-opacity="0.75"/><circle cx="1203.3" cy="3224.3" r="11" fill-opacity="0.5"/><circle cx="1234.3" cy="3165.2" r="11" fill-opacity="0.75"/><circle cx="1204.3" cy="3238.9" r="11" fill-opacity="0.75"/><circle cx="1189.7" cy="3274.5" r="11" fill-opacity="0.5"/><circle cx="1197.5" cy="3255.1" r="11" fill-opacity="0.75"/><circle cx="1233.9" cy="3243.8" r="11" fill-opacity="0.75"/><circle cx="1213.5" cy="3224.1" r="11" fill-opacity="0.5"/><circle cx="1233.4" cy="3171.9" r="11" fill-opacity="0.75"/><circle cx="1209.1" cy="3225.1" r="11" fill-opacity="0.75"/><circle cx="1217.9" cy="3218.6" r="11" fill-opacity="0.5"/><circle cx="1235.0" cy="3231.7" r="11" fill-opacity="0.75"/><circle cx="1220.3" cy="3190.4" r="11" fill-opacity="0.75"/><circle cx="1223.1" cy="3174.2" r="11" fill-opacity="0.5"/><circle cx="1234.1" cy="3187.4" r="11" fill-opacity="0.75"/><circle cx="1237.0" cy="3235.2" r="11" fill-opacity="0.75"/><circle cx="1207.0" cy="3223.9" r="11" fill-opacity="0.5"/><circle cx="1216.4" cy="3219.9" r="11" fill-opacity="0.75"/><circle cx="1221.3" cy="3177.4" r="11" fill-opacity="0.75"/><circle cx="1204.5" cy="3284.5" r="11" fill-opacity="0.5"/><circle cx="1236.2" cy="3199.6" r="11" fill-opacity="0.75"/><circle cx="1200.2" cy="3248.2" r="11" fill-opacity="0.75"/><circle cx="1211.4" cy="3223.2" r="11" fill-opacity="0.5"/><circle cx="1186.1" cy="3279.1" r="11" fill-opacity="0.75"/><circle cx="1225.0" cy="3191.5" r="11" fill-opacity="0.75"/><circle cx="1236.9" cy="3214.5" r="11" fill-opacity="0.5"/><circle cx="1221.7" cy="3207.4" r="11" fill-opacity="0.75"/><circle cx="1203.8" cy="3229.2" r="11" fill-opacity="0.75"/><circle cx="1223.3" cy="3197.5" r="11" fill-opacity="0.5"/><circle cx="1235.5" cy="3176.7" r="11" fill-opacity="0.75"/>
</g>
<g fill="#4169E1" fill-opacity="0.5" stroke="#4169E1" stroke-opacity="0.5" stroke-width="1">
<circle cx="1092.9" cy="3187.5" r="10.5"/><circle cx="1101.7" cy="3191.3" r="10.5"/><circle cx="1117.9" cy="3207.1" r="10.5"/><circle cx="1107.9" cy="3215.1" r="10.5"/><circle cx="1111.7" cy="3235.1" r="10.5"/><circle cx="1117.9" cy="3247.6" r="10.5"/><circle cx="1135.5" cy="3272.7" r="10.5"/><circle cx="1144.2" cy="3290.2" r="10.5"/><circle cx="1086.4" cy="3170.2" r="10.5"/><circle cx="1218.3" cy="3160.2" r="10.5"/><circle cx="1237.9" cy="3155.1" r="10.5"/><circle cx="1225.3" cy="3170.2" r="10.5"/><circle cx="1220.3" cy="3180.2" r="10.5"/><circle cx="1222.8" cy="3192.7" r="10.5"/><circle cx="1225.3" cy="3202.7" r="10.5"/><circle cx="1206.6" cy="3224.0" r="10.5"/><circle cx="1192.8" cy="3249.0" r="10.5"/><circle cx="1185.3" cy="3275.3" r="10.5"/><circle cx="1135.2" cy="3270.3" r="10.5"/>
</g>
<g fill="#228B22" >
<path d="M930.0 3298.0L932.0 3292.0L937.0 3288.5L945.0 3287.5L1081.0 3287.5L1081.0 3328.0L1045.0 3325.0L995.0 3320.0L955.0 3314.0L940.0 3310.0L933.0 3305.0Z"/>
<path d="M1242.0 3286.5L1436.0 3287.0L1443.0 3289.0L1447.0 3294.0L1446.0 3301.0L1440.0 3306.0L1420.0 3312.0L1390.0 3316.5L1340.0 3320.0L1302.0 3325.0L1242.0 3326.5Z"/>
<circle cx="1032.3" cy="3314.5" r="11" fill-opacity="0.5"/><circle cx="963.6" cy="3306.7" r="11" fill-opacity="0.75"/><circle cx="1020.9" cy="3315.3" r="11" fill-opacity="0.75"/><circle cx="991.0" cy="3310.9" r="11" fill-opacity="0.5"/><circle cx="1041.5" cy="3317.6" r="11" fill-opacity="0.75"/><circle cx="1070.3" cy="3296.6" r="11" fill-opacity="0.75"/><circle cx="1023.1" cy="3313.2" r="11" fill-opacity="0.5"/><circle cx="972.2" cy="3308.3" r="11" fill-opacity="0.75"/><circle cx="1064.6" cy="3298.0" r="11" fill-opacity="0.75"/><circle cx="1045.0" cy="3297.1" r="11" fill-opacity="0.5"/><circle cx="999.7" cy="3313.4" r="11" fill-opacity="0.75"/><circle cx="981.7" cy="3308.5" r="11" fill-opacity="0.75"/><circle cx="1019.0" cy="3295.6" r="11" fill-opacity="0.5"/><circle cx="1046.1" cy="3296.3" r="11" fill-opacity="0.75"/><circle cx="1018.0" cy="3313.7" r="11" fill-opacity="0.75"/><circle cx="1056.4" cy="3314.9" r="11" fill-opacity="0.5"/><circle cx="1000.6" cy="3297.8" r="11" fill-opacity="0.75"/><circle cx="968.0" cy="3296.6" r="11" fill-opacity="0.75"/><circle cx="955.3" cy="3306.5" r="11" fill-opacity="0.5"/><circle cx="1049.7" cy="3315.4" r="11" fill-opacity="0.75"/><circle cx="998.4" cy="3295.3" r="11" fill-opacity="0.75"/><circle cx="1031.6" cy="3314.1" r="11" fill-opacity="0.5"/><circle cx="955.6" cy="3305.3" r="11" fill-opacity="0.75"/><circle cx="1012.7" cy="3298.0" r="11" fill-opacity="0.75"/><circle cx="1056.4" cy="3316.1" r="11" fill-opacity="0.5"/><circle cx="1020.3" cy="3314.4" r="11" fill-opacity="0.75"/><circle cx="1070.1" cy="3314.8" r="11" fill-opacity="0.75"/><circle cx="997.5" cy="3296.3" r="11" fill-opacity="0.5"/><circle cx="961.7" cy="3307.2" r="11" fill-opacity="0.75"/><circle cx="984.5" cy="3298.1" r="11" fill-opacity="0.75"/><circle cx="1023.1" cy="3312.8" r="11" fill-opacity="0.5"/><circle cx="1059.0" cy="3295.7" r="11" fill-opacity="0.75"/><circle cx="1038.5" cy="3297.3" r="11" fill-opacity="0.75"/><circle cx="943.2" cy="3297.3" r="11" fill-opacity="0.5"/><circle cx="1042.8" cy="3315.2" r="11" fill-opacity="0.75"/><circle cx="966.5" cy="3305.4" r="11" fill-opacity="0.75"/><circle cx="1039.3" cy="3296.6" r="11" fill-opacity="0.5"/><circle cx="1073.3" cy="3301.5" r="11" fill-opacity="0.75"/><circle cx="1055.2" cy="3296.0" r="11" fill-opacity="0.75"/><circle cx="1036.0" cy="3313.2" r="11" fill-opacity="0.5"/><circle cx="980.3" cy="3297.8" r="11" fill-opacity="0.75"/><circle cx="1012.4" cy="3313.6" r="11" fill-opacity="0.75"/><circle cx="978.4" cy="3308.8" r="11" fill-opacity="0.5"/><circle cx="1073.7" cy="3319.8" r="11" fill-opacity="0.75"/><circle cx="1071.2" cy="3307.1" r="11" fill-opacity="0.75"/><circle cx="1070.5" cy="3295.3" r="11" fill-opacity="0.5"/><circle cx="1073.1" cy="3313.3" r="11" fill-opacity="0.75"/><circle cx="1072.9" cy="3309.7" r="11" fill-opacity="0.75"/><circle cx="962.6" cy="3307.8" r="11" fill-opacity="0.5"/><circle cx="956.0" cy="3296.5" r="11" fill-opacity="0.75"/><circle cx="1391.0" cy="3307.7" r="11" fill-opacity="0.75"/><circle cx="1356.8" cy="3296.3" r="11" fill-opacity="0.5"/><circle cx="1252.2" cy="3315.0" r="11" fill-opacity="0.75"/><circle cx="1421.0" cy="3297.2" r="11" fill-opacity="0.75"/><circle cx="1328.6" cy="3310.5" r="11" fill-opacity="0.5"/><circle cx="1341.7" cy="3297.4" r="11" fill-opacity="0.75"/><circle cx="1261.1" cy="3294.5" r="11" fill-opacity="0.75"/><circle cx="1270.6" cy="3318.3" r="11" fill-opacity="0.5"/><circle cx="1295.9" cy="3315.6" r="11" fill-opacity="0.75"/><circle cx="1264.2" cy="3295.4" r="11" fill-opacity="0.75"/><circle cx="1364.6" cy="3310.5" r="11" fill-opacity="0.5"/><circle cx="1259.9" cy="3295.2" r="11" fill-opacity="0.75"/><circle cx="1311.2" cy="3296.6" r="11" fill-opacity="0.75"/><circle cx="1323.7" cy="3295.7" r="11" fill-opacity="0.5"/><circle cx="1426.7" cy="3294.2" r="11" fill-opacity="0.75"/><circle cx="1337.7" cy="3310.9" r="11" fill-opacity="0.75"/><circle cx="1406.7" cy="3295.7" r="11" fill-opacity="0.5"/><circle cx="1255.1" cy="3293.7" r="11" fill-opacity="0.75"/><circle cx="1313.7" cy="3296.2" r="11" fill-opacity="0.75"/><circle cx="1346.7" cy="3296.7" r="11" fill-opacity="0.5"/><circle cx="1421.7" cy="3294.3" r="11" fill-opacity="0.75"/><circle cx="1306.3" cy="3315.3" r="11" fill-opacity="0.75"/><circle cx="1364.5" cy="3293.8" r="11" fill-opacity="0.5"/><circle cx="1276.3" cy="3315.6" r="11" fill-opacity="0.75"/><circle cx="1292.9" cy="3315.1" r="11" fill-opacity="0.75"/><circle cx="1310.2" cy="3313.8" r="11" fill-opacity="0.5"/><circle cx="1413.0" cy="3302.7" r="11" fill-opacity="0.75"/><circle cx="1328.2" cy="3293.7" r="11" fill-opacity="0.75"/><circle cx="1333.7" cy="3296.2" r="11" fill-opacity="0.5"/><circle cx="1358.4" cy="3293.9" r="11" fill-opacity="0.75"/><circle cx="1335.0" cy="3311.9" r="11" fill-opacity="0.75"/><circle cx="1306.8" cy="3296.1" r="11" fill-opacity="0.5"/><circle cx="1354.8" cy="3311.1" r="11" fill-opacity="0.75"/><circle cx="1306.5" cy="3295.5" r="11" fill-opacity="0.75"/><circle cx="1271.8" cy="3297.3" r="11" fill-opacity="0.5"/><circle cx="1418.1" cy="3296.4" r="11" fill-opacity="0.75"/><circle cx="1426.0" cy="3295.1" r="11" fill-opacity="0.75"/><circle cx="1265.1" cy="3317.1" r="11" fill-opacity="0.5"/><circle cx="1327.6" cy="3312.1" r="11" fill-opacity="0.75"/><circle cx="1348.8" cy="3309.8" r="11" fill-opacity="0.75"/><circle cx="1316.9" cy="3295.7" r="11" fill-opacity="0.5"/><circle cx="1416.2" cy="3297.9" r="11" fill-opacity="0.75"/><circle cx="1313.2" cy="3294.2" r="11" fill-opacity="0.75"/><circle cx="1326.4" cy="3311.8" r="11" fill-opacity="0.5"/><circle cx="1281.8" cy="3294.8" r="11" fill-opacity="0.75"/><circle cx="1413.0" cy="3304.9" r="11" fill-opacity="0.75"/><circle cx="1400.8" cy="3296.6" r="11" fill-opacity="0.5"/><circle cx="1284.0" cy="3297.3" r="11" fill-opacity="0.75"/><circle cx="1327.0" cy="3296.8" r="11" fill-opacity="0.75"/><circle cx="1416.2" cy="3296.9" r="11" fill-opacity="0.5"/><circle cx="1265.2" cy="3316.9" r="11" fill-opacity="0.75"/><circle cx="1321.5" cy="3295.7" r="11" fill-opacity="0.75"/><circle cx="1335.3" cy="3313.2" r="11" fill-opacity="0.5"/><circle cx="1401.0" cy="3297.8" r="11" fill-opacity="0.75"/><circle cx="1341.2" cy="3293.9" r="11" fill-opacity="0.75"/><circle cx="1369.9" cy="3310.1" r="11" fill-opacity="0.5"/><circle cx="1296.2" cy="3317.2" r="11" fill-opacity="0.75"/><circle cx="1290.8" cy="3318.0" r="11" fill-opacity="0.75"/><circle cx="1252.0" cy="3301.5" r="11" fill-opacity="0.5"/><circle cx="1413.7" cy="3303.2" r="11" fill-opacity="0.75"/>
</g>
<g fill="#228B22" fill-opacity="0.5" stroke="#228B22" stroke-opacity="0.5" stroke-width="1">
<circle cx="1467.8" cy="3314.0" r="10.5"/><circle cx="1497.9" cy="3300.2" r="10.5"/><circle cx="1521.7" cy="3312.2" r="10.5"/><circle cx="1415.3" cy="3300.2" r="10.5"/><circle cx="1425.3" cy="3307.7" r="10.5"/><circle cx="1410.3" cy="3310.2" r="10.5"/><circle cx="1390.2" cy="3307.7" r="10.5"/><circle cx="1435.3" cy="3302.7" r="10.5"/><circle cx="1445.3" cy="3300.2" r="10.5"/><circle cx="1456.6" cy="3295.2" r="10.5"/><circle cx="1497.9" cy="3296.5" r="10.5"/><circle cx="1665.8" cy="3305.2" r="10.5"/><circle cx="852.5" cy="3297.7" r="10.5"/><circle cx="860.1" cy="3299.7" r="10.5"/><circle cx="870.1" cy="3296.5" r="10.5"/><circle cx="905.1" cy="3305.2" r="10.5"/><circle cx="920.2" cy="3302.7" r="10.5"/><circle cx="927.7" cy="3307.7" r="10.5"/><circle cx="935.2" cy="3300.2" r="10.5"/>
</g>
<g fill="#4D4D4D" >
<path d="M1081.0 3285.3L1138.0 3285.3L1146.0 3292.0L1160.2 3309.0L1173.0 3292.0L1180.0 3285.3L1242.0 3285.3L1251.0 3305.0L1249.0 3327.0L1200.0 3331.0L1160.0 3331.7L1120.0 3331.0L1074.0 3327.0L1072.0 3305.0Z"/>
<circle cx="1123.0" cy="3322.6" r="11" fill-opacity="0.5"/><circle cx="1134.6" cy="3322.9" r="11" fill-opacity="0.75"/><circle cx="1136.2" cy="3322.1" r="11" fill-opacity="0.75"/><circle cx="1125.8" cy="3321.5" r="11" fill-opacity="0.5"/><circle cx="1088.7" cy="3319.9" r="11" fill-opacity="0.75"/><circle cx="1126.2" cy="3321.7" r="11" fill-opacity="0.75"/><circle cx="1081.9" cy="3315.3" r="11" fill-opacity="0.5"/><circle cx="1101.2" cy="3321.2" r="11" fill-opacity="0.75"/><circle cx="1111.7" cy="3321.7" r="11" fill-opacity="0.75"/><circle cx="1116.2" cy="3321.9" r="11" fill-opacity="0.5"/><circle cx="1082.7" cy="3316.5" r="11" fill-opacity="0.75"/><circle cx="1083.9" cy="3318.1" r="11" fill-opacity="0.75"/><circle cx="1211.6" cy="3322.3" r="11" fill-opacity="0.5"/><circle cx="1187.4" cy="3322.2" r="11" fill-opacity="0.75"/><circle cx="1216.8" cy="3321.9" r="11" fill-opacity="0.75"/><circle cx="1207.8" cy="3322.3" r="11" fill-opacity="0.5"/><circle cx="1193.4" cy="3323.9" r="11" fill-opacity="0.75"/><circle cx="1239.2" cy="3319.2" r="11" fill-opacity="0.75"/><circle cx="1235.4" cy="3318.8" r="11" fill-opacity="0.5"/><circle cx="1243.4" cy="3307.6" r="11" fill-opacity="0.75"/><circle cx="1183.7" cy="3321.7" r="11" fill-opacity="0.75"/><circle cx="1202.2" cy="3321.8" r="11" fill-opacity="0.5"/><circle cx="1241.0" cy="3311.8" r="11" fill-opacity="0.75"/><circle cx="1241.1" cy="3312.8" r="11" fill-opacity="0.75"/>
</g>
<line x1="1080.5" x2="1080.5" y1="2499.7000000000003" y2="3359.5" stroke="#000" stroke-width="1.6" stroke-dasharray="9.4 5"/>
<line x1="1242" x2="1242" y1="2499.7000000000003" y2="3359.5" stroke="#000" stroke-width="1.6" stroke-dasharray="9.4 5"/>
<line x1="268.3" x2="2052.4" y1="3294.8" y2="3294.8" stroke="#000" stroke-width="1.6" stroke-dasharray="9.4 5"/>
<path d="M268.0 2496.3V3359.5H2054.4" fill="none" stroke="#000" stroke-width="2.8" stroke-linejoin="miter"/>
<line x1="256.0" x2="268.3" y1="3321.4" y2="3321.4" stroke="#333" stroke-width="4.2"/>
<text x="245.8" y="3334.0" font-family="'Liberation Sans', sans-serif" font-size="34" font-weight="normal" text-anchor="end" fill="#4D4D4D">0</text>
<line x1="256.0" x2="268.3" y1="3125.1" y2="3125.1" stroke="#333" stroke-width="4.2"/>
<text x="245.8" y="3137.7" font-family="'Liberation Sans', sans-serif" font-size="34" font-weight="normal" text-anchor="end" fill="#4D4D4D">10</text>
<line x1="256.0" x2="268.3" y1="2928.8" y2="2928.8" stroke="#333" stroke-width="4.2"/>
<text x="245.8" y="2941.4" font-family="'Liberation Sans', sans-serif" font-size="34" font-weight="normal" text-anchor="end" fill="#4D4D4D">20</text>
<line x1="256.0" x2="268.3" y1="2732.5" y2="2732.5" stroke="#333" stroke-width="4.2"/>
<text x="245.8" y="2745.1" font-family="'Liberation Sans', sans-serif" font-size="34" font-weight="normal" text-anchor="end" fill="#4D4D4D">30</text>
<line x1="256.0" x2="268.3" y1="2536.2" y2="2536.2" stroke="#333" stroke-width="4.2"/>
<text x="245.8" y="2548.8" font-family="'Liberation Sans', sans-serif" font-size="34" font-weight="normal" text-anchor="end" fill="#4D4D4D">40</text>
<line x1="349.5" x2="349.5" y1="3359.5" y2="3371.0" stroke="#333" stroke-width="4.2"/>
<text x="349.0" y="3409.5" font-family="'Liberation Sans', sans-serif" font-size="34" font-weight="normal" text-anchor="middle" fill="#4D4D4D">-10</text>
<line x1="755.5" x2="755.5" y1="3359.5" y2="3371.0" stroke="#333" stroke-width="4.2"/>
<text x="755.0" y="3409.5" font-family="'Liberation Sans', sans-serif" font-size="34" font-weight="normal" text-anchor="middle" fill="#4D4D4D">-5</text>
<line x1="1161.4" x2="1161.4" y1="3359.5" y2="3371.0" stroke="#333" stroke-width="4.2"/>
<text x="1160.9" y="3409.5" font-family="'Liberation Sans', sans-serif" font-size="34" font-weight="normal" text-anchor="middle" fill="#4D4D4D">0</text>
<line x1="1567.4" x2="1567.4" y1="3359.5" y2="3371.0" stroke="#333" stroke-width="4.2"/>
<text x="1566.9" y="3409.5" font-family="'Liberation Sans', sans-serif" font-size="34" font-weight="normal" text-anchor="middle" fill="#4D4D4D">5</text>
<line x1="1973.3" x2="1973.3" y1="3359.5" y2="3371.0" stroke="#333" stroke-width="4.2"/>
<text x="1972.8" y="3409.5" font-family="'Liberation Sans', sans-serif" font-size="34" font-weight="normal" text-anchor="middle" fill="#4D4D4D">10</text>
</g>
<g transform="translate(138.8,3031.3) rotate(-90)">
<text x="-4" y="0" font-family="'Liberation Sans', sans-serif" font-size="76" font-weight="bold">-Log</text>
<text x="160" y="12" font-family="'Liberation Sans', sans-serif" font-size="54" font-weight="bold">10</text>
<text x="220" y="0" font-family="'Liberation Sans', sans-serif" font-size="76" font-weight="bold" font-style="italic">P</text>
</g>
<text x="929.5" y="3502" font-family="'Liberation Sans', sans-serif" font-size="76" font-weight="bold">Log</text>
<text x="1069.5" y="3514" font-family="'Liberation Sans', sans-serif" font-size="54" font-weight="bold">2</text>
<text x="1098.0" y="3502" font-family="'Liberation Sans', sans-serif" font-size="76" font-weight="bold" textLength="420.5" lengthAdjust="spacing">fold change</text>
<text x="1610.4" y="3463" font-family="'Liberation Sans', sans-serif" font-size="33" font-weight="bold" textLength="397" lengthAdjust="spacing">total = 55487 variables</text>
<g>
<rect x="270.4" y="1415.2" width="813.8000000000001" height="645.3" fill="#fff"/>
<line x1="421.5" x2="421.5" y1="1415.2" y2="2060.5" stroke="#BBBBBB" stroke-width="3"/>
<line x1="572.6" x2="572.6" y1="1415.2" y2="2060.5" stroke="#BBBBBB" stroke-width="3"/>
<line x1="723.7" x2="723.7" y1="1415.2" y2="2060.5" stroke="#BBBBBB" stroke-width="3"/>
<line x1="1025.9" x2="1025.9" y1="1415.2" y2="2060.5" stroke="#BBBBBB" stroke-width="3"/>
<rect x="270.4" y="1433.2" width="774.8" height="24.2" fill="#D95F0E" stroke="#8C7B6C" stroke-width="2.6"/>
<rect x="270.4" y="1463.9" width="662.6" height="24.2" fill="#FE9929" stroke="#8C7B6C" stroke-width="2.6"/>
<rect x="270.4" y="1494.7" width="661.1" height="24.2" fill="#FE9929" stroke="#8C7B6C" stroke-width="2.6"/>
<rect x="270.4" y="1525.4" width="598.0" height="24.2" fill="#FE9929" stroke="#8C7B6C" stroke-width="2.6"/>
<rect x="270.4" y="1556.1" width="552.4" height="24.2" fill="#FE9929" stroke="#8C7B6C" stroke-width="2.6"/>
<rect x="270.4" y="1586.9" width="517.4" height="24.2" fill="#FE9929" stroke="#8C7B6C" stroke-width="2.6"/>
<rect x="270.4" y="1617.6" width="501.4" height="24.2" fill="#FE9929" stroke="#8C7B6C" stroke-width="2.6"/>
<rect x="270.4" y="1648.3" width="496.3" height="24.2" fill="#FE9929" stroke="#8C7B6C" stroke-width="2.6"/>
<rect x="270.4" y="1679.0" width="462.8" height="24.2" fill="#FE9929" stroke="#8C7B6C" stroke-width="2.6"/>
<rect x="270.4" y="1709.8" width="451.3" height="24.2" fill="#FEC44F" stroke="#8C7B6C" stroke-width="2.6"/>
<rect x="270.4" y="1740.5" width="451.3" height="24.2" fill="#FEC44F" stroke="#8C7B6C" stroke-width="2.6"/>
<rect x="270.4" y="1771.2" width="440.8" height="24.2" fill="#FEC44F" stroke="#8C7B6C" stroke-width="2.6"/>
<rect x="270.4" y="1802.0" width="421.2" height="24.2" fill="#FEC44F" stroke="#8C7B6C" stroke-width="2.6"/>
<rect x="270.4" y="1832.7" width="414.7" height="24.2" fill="#FEC44F" stroke="#8C7B6C" stroke-width="2.6"/>
<rect x="270.4" y="1863.4" width="412.7" height="24.2" fill="#FEC44F" stroke="#8C7B6C" stroke-width="2.6"/>
<rect x="270.4" y="1894.2" width="410.7" height="24.2" fill="#FEC44F" stroke="#8C7B6C" stroke-width="2.6"/>
<rect x="270.4" y="1924.9" width="409.2" height="24.2" fill="#FEC44F" stroke="#8C7B6C" stroke-width="2.6"/>
<rect x="270.4" y="1955.6" width="409.2" height="24.2" fill="#FEC44F" stroke="#8C7B6C" stroke-width="2.6"/>
<rect x="270.4" y="1986.3" width="405.7" height="24.2" fill="#FEC44F" stroke="#8C7B6C" stroke-width="2.6"/>
<rect x="270.4" y="2017.1" width="393.7" height="24.2" fill="#FEC44F" stroke="#8C7B6C" stroke-width="2.6"/>
<rect x="270.4" y="1415.2" width="813.8000000000001" height="645.3" fill="none" stroke="#5C5C5C" stroke-width="2.8"/>
<line x1="270.4" x2="270.4" y1="2060.5" y2="2069.5" stroke="#555" stroke-width="2"/>
<text transform="translate(270.4,2099) scale(1,1)" font-family="'DejaVu Sans', 'Liberation Sans', sans-serif" font-size="24" text-anchor="middle" fill="#333" stroke="#333" stroke-width="0.5">0</text>
<line x1="421.5" x2="421.5" y1="2060.5" y2="2069.5" stroke="#555" stroke-width="2"/>
<text transform="translate(421.5,2099) scale(1,1)" font-family="'DejaVu Sans', 'Liberation Sans', sans-serif" font-size="24" text-anchor="middle" fill="#333" stroke="#333" stroke-width="0.5">2</text>
<line x1="572.6" x2="572.6" y1="2060.5" y2="2069.5" stroke="#555" stroke-width="2"/>
<text transform="translate(572.6,2099) scale(1,1)" font-family="'DejaVu Sans', 'Liberation Sans', sans-serif" font-size="24" text-anchor="middle" fill="#333" stroke="#333" stroke-width="0.5">4</text>
<line x1="723.7" x2="723.7" y1="2060.5" y2="2069.5" stroke="#555" stroke-width="2"/>
<text transform="translate(723.7,2099) scale(1,1)" font-family="'DejaVu Sans', 'Liberation Sans', sans-serif" font-size="24" text-anchor="middle" fill="#333" stroke="#333" stroke-width="0.5">6</text>
<line x1="874.8" x2="874.8" y1="2060.5" y2="2069.5" stroke="#555" stroke-width="2"/>
<text transform="translate(874.8,2099) scale(1,1)" font-family="'DejaVu Sans', 'Liberation Sans', sans-serif" font-size="24" text-anchor="middle" fill="#333" stroke="#333" stroke-width="0.5">8</text>
<line x1="1025.9" x2="1025.9" y1="2060.5" y2="2069.5" stroke="#555" stroke-width="2"/>
<text transform="translate(1025.9,2099) scale(1,1)" font-family="'DejaVu Sans', 'Liberation Sans', sans-serif" font-size="24" text-anchor="middle" fill="#333" stroke="#333" stroke-width="0.5">10</text>
<text x="574" y="2154.5" font-family="'Liberation Sans', sans-serif" font-size="58.7" font-weight="normal" stroke="#000" stroke-width="2.2" stroke-linejoin="round" textLength="241" lengthAdjust="spacingAndGlyphs">-log10(P)</text>
<text x="1113" y="1439.2" font-family="'Liberation Sans', sans-serif" font-size="22" font-weight="bold" textLength="445.2" lengthAdjust="spacing">mmu04010: MAPK signaling pathway</text>
<text x="1113" y="1474.1" font-family="'Liberation Sans', sans-serif" font-size="22" font-weight="bold" textLength="420.7" lengthAdjust="spacing">GO:0009725: response to hormone</text>
<text x="1113" y="1511.2" font-family="'Liberation Sans', sans-serif" font-size="22" font-weight="bold" textLength="544.4" lengthAdjust="spacing">GO:0010942: positive regulation of cell death</text>
<text x="1113" y="1541.2" font-family="'Liberation Sans', sans-serif" font-size="22" font-weight="bold" textLength="640.5" lengthAdjust="spacing">GO:0009896: positive regulation of catabolic process</text>
<text x="1113" y="1575.3" font-family="'Liberation Sans', sans-serif" font-size="22" font-weight="bold" textLength="466.7" lengthAdjust="spacing">GO:0001944: vasculature development</text>
<text x="1113" y="1606.3" font-family="'Liberation Sans', sans-serif" font-size="22" font-weight="bold" textLength="1151.5" lengthAdjust="spacing">GO:0043618: regulation of transcription from RNA polymerase II promoter in response to stress</text>
<text x="1113" y="1640.4" font-family="'Liberation Sans', sans-serif" font-size="22" font-weight="bold" textLength="385.1" lengthAdjust="spacing">GO:0038066: p38MAPK cascade</text>
<text x="1113" y="1675.4" font-family="'Liberation Sans', sans-serif" font-size="22" font-weight="bold" textLength="418.7" lengthAdjust="spacing">GO:0045444: fat cell differentiation</text>
<text x="1113" y="1706" font-family="'Liberation Sans', sans-serif" font-size="22" font-weight="bold" textLength="530.3" lengthAdjust="spacing">GO:0061061: muscle structure development</text>
<text x="1113" y="1740.3" font-family="'Liberation Sans', sans-serif" font-size="22" font-weight="bold" textLength="476.2" lengthAdjust="spacing">GO:0070848: response to growth factor</text>
<text x="1113" y="1775.1" font-family="'Liberation Sans', sans-serif" font-size="22" font-weight="bold" textLength="972" lengthAdjust="spacing">GO:0007169: transmembrane receptor protein tyrosine kinase signaling pathway</text>
<text x="1113" y="1805.1" font-family="'Liberation Sans', sans-serif" font-size="22" font-weight="bold" textLength="450.2" lengthAdjust="spacing">Mmu04380: Osteoclast differentiation</text>
<text x="1113" y="1840.2" font-family="'Liberation Sans', sans-serif" font-size="22" font-weight="bold" textLength="431.7" lengthAdjust="spacing">GO:0009611: response to wounding</text>
<text x="1113" y="1875.2" font-family="'Liberation Sans', sans-serif" font-size="22" font-weight="bold" textLength="483.8" lengthAdjust="spacing">GO:1901214: regulation of neuron death</text>
<text x="1113" y="1905.3" font-family="'Liberation Sans', sans-serif" font-size="22" font-weight="bold" textLength="697.6" lengthAdjust="spacing">GO:0048146: positive regulation of fibroblast proliferation</text>
<text x="1113" y="1940.3" font-family="'Liberation Sans', sans-serif" font-size="22" font-weight="bold" textLength="511.3" lengthAdjust="spacing">GO:007346: regulation of mitotic cell cycle</text>
<text x="1113" y="1976.4" font-family="'Liberation Sans', sans-serif" font-size="22" font-weight="bold" textLength="640.5" lengthAdjust="spacing">GO:0032922: circadian regulation of gene expression</text>
<text x="1113" y="2004.4" font-family="'Liberation Sans', sans-serif" font-size="22" font-weight="bold" textLength="733" lengthAdjust="spacing">GO:0062012: regulation of small molecule metabolic process</text>
<text x="1113" y="2039.5" font-family="'Liberation Sans', sans-serif" font-size="22" font-weight="bold" textLength="590.4" lengthAdjust="spacing">GO:0030335: positive regulation of cell migration</text>
</g>
<g>
<rect x="252.9" y="3662.1" width="902.4" height="567.2999999999997" fill="#fff"/>
<line x1="387.1" x2="387.1" y1="3662.1" y2="4229.4" stroke="#BBBBBB" stroke-width="3"/>
<line x1="521.3" x2="521.3" y1="3662.1" y2="4229.4" stroke="#BBBBBB" stroke-width="3"/>
<line x1="655.5" x2="655.5" y1="3662.1" y2="4229.4" stroke="#BBBBBB" stroke-width="3"/>
<line x1="923.9" x2="923.9" y1="3662.1" y2="4229.4" stroke="#BBBBBB" stroke-width="3"/>
<rect x="252.9" y="3677.8" width="858.9" height="19.7" fill="#D95F0E" stroke="#8C7B6C" stroke-width="2.6"/>
<rect x="252.9" y="3704.8" width="732.7" height="19.7" fill="#D95F0E" stroke="#8C7B6C" stroke-width="2.6"/>
<rect x="252.9" y="3731.9" width="599.0" height="19.7" fill="#FE9929" stroke="#8C7B6C" stroke-width="2.6"/>
<rect x="252.9" y="3758.9" width="503.8" height="19.7" fill="#FE9929" stroke="#8C7B6C" stroke-width="2.6"/>
<rect x="252.9" y="3786.0" width="502.3" height="19.7" fill="#FE9929" stroke="#8C7B6C" stroke-width="2.6"/>
<rect x="252.9" y="3813.0" width="472.8" height="19.7" fill="#FE9929" stroke="#8C7B6C" stroke-width="2.6"/>
<rect x="252.9" y="3840.0" width="463.3" height="19.7" fill="#FE9929" stroke="#8C7B6C" stroke-width="2.6"/>
<rect x="252.9" y="3867.1" width="426.2" height="19.7" fill="#FE9929" stroke="#8C7B6C" stroke-width="2.6"/>
<rect x="252.9" y="3894.1" width="418.7" height="19.7" fill="#FE9929" stroke="#8C7B6C" stroke-width="2.6"/>
<rect x="252.9" y="3921.2" width="410.7" height="19.7" fill="#FE9929" stroke="#8C7B6C" stroke-width="2.6"/>
<rect x="252.9" y="3948.2" width="408.7" height="19.7" fill="#FE9929" stroke="#8C7B6C" stroke-width="2.6"/>
<rect x="252.9" y="3975.2" width="399.2" height="19.7" fill="#FEC44F" stroke="#8C7B6C" stroke-width="2.6"/>
<rect x="252.9" y="4002.3" width="391.6" height="19.7" fill="#FEC44F" stroke="#8C7B6C" stroke-width="2.6"/>
<rect x="252.9" y="4029.3" width="360.5" height="19.7" fill="#FEC44F" stroke="#8C7B6C" stroke-width="2.6"/>
<rect x="252.9" y="4056.4" width="358.5" height="19.7" fill="#FEC44F" stroke="#8C7B6C" stroke-width="2.6"/>
<rect x="252.9" y="4083.4" width="354.5" height="19.7" fill="#FEC44F" stroke="#8C7B6C" stroke-width="2.6"/>
<rect x="252.9" y="4110.4" width="350.5" height="19.7" fill="#FEC44F" stroke="#8C7B6C" stroke-width="2.6"/>
<rect x="252.9" y="4137.5" width="348.5" height="19.7" fill="#FEC44F" stroke="#8C7B6C" stroke-width="2.6"/>
<rect x="252.9" y="4164.5" width="325.5" height="19.7" fill="#FEC44F" stroke="#8C7B6C" stroke-width="2.6"/>
<rect x="252.9" y="4191.6" width="315.5" height="19.7" fill="#FEC44F" stroke="#8C7B6C" stroke-width="2.6"/>
<rect x="252.9" y="3662.1" width="902.4" height="567.2999999999997" fill="none" stroke="#5C5C5C" stroke-width="2.8"/>
<line x1="252.9" x2="252.9" y1="4229.4" y2="4238.4" stroke="#555" stroke-width="2"/>
<text transform="translate(252.9,4262.6) scale(1.07,0.86)" font-family="'DejaVu Sans', 'Liberation Sans', sans-serif" font-size="24" text-anchor="middle" fill="#333" stroke="#333" stroke-width="0.25">0</text>
<line x1="387.1" x2="387.1" y1="4229.4" y2="4238.4" stroke="#555" stroke-width="2"/>
<text transform="translate(387.1,4262.6) scale(1.07,0.86)" font-family="'DejaVu Sans', 'Liberation Sans', sans-serif" font-size="24" text-anchor="middle" fill="#333" stroke="#333" stroke-width="0.25">2</text>
<line x1="521.3" x2="521.3" y1="4229.4" y2="4238.4" stroke="#555" stroke-width="2"/>
<text transform="translate(521.3,4262.6) scale(1.07,0.86)" font-family="'DejaVu Sans', 'Liberation Sans', sans-serif" font-size="24" text-anchor="middle" fill="#333" stroke="#333" stroke-width="0.25">4</text>
<line x1="655.5" x2="655.5" y1="4229.4" y2="4238.4" stroke="#555" stroke-width="2"/>
<text transform="translate(655.5,4262.6) scale(1.07,0.86)" font-family="'DejaVu Sans', 'Liberation Sans', sans-serif" font-size="24" text-anchor="middle" fill="#333" stroke="#333" stroke-width="0.25">6</text>
<line x1="789.7" x2="789.7" y1="4229.4" y2="4238.4" stroke="#555" stroke-width="2"/>
<text transform="translate(789.7,4262.6) scale(1.07,0.86)" font-family="'DejaVu Sans', 'Liberation Sans', sans-serif" font-size="24" text-anchor="middle" fill="#333" stroke="#333" stroke-width="0.25">8</text>
<line x1="923.9" x2="923.9" y1="4229.4" y2="4238.4" stroke="#555" stroke-width="2"/>
<text transform="translate(923.9,4262.6) scale(1.07,0.86)" font-family="'DejaVu Sans', 'Liberation Sans', sans-serif" font-size="24" text-anchor="middle" fill="#333" stroke="#333" stroke-width="0.25">10</text>
<line x1="1058.1" x2="1058.1" y1="4229.4" y2="4238.4" stroke="#555" stroke-width="2"/>
<text transform="translate(1058.1,4262.6) scale(1.07,0.86)" font-family="'DejaVu Sans', 'Liberation Sans', sans-serif" font-size="24" text-anchor="middle" fill="#333" stroke="#333" stroke-width="0.25">12</text>
<text x="498.5" y="4330.3" font-family="'Liberation Sans', sans-serif" font-size="51.3" font-weight="normal" stroke="#000" stroke-width="2.2" stroke-linejoin="round" textLength="214" lengthAdjust="spacingAndGlyphs">-log10(P)</text>
<text x="1186.5" y="3698.6" font-family="'Liberation Sans', sans-serif" font-size="21.6" font-weight="bold" textLength="446.7" lengthAdjust="spacing">mmu04010: MAPK signaling pathway</text>
<text x="1186.5" y="3726.1" font-family="'Liberation Sans', sans-serif" font-size="21.6" font-weight="bold" textLength="634.5" lengthAdjust="spacing">GO:0042326: negative regulation of phosphorylation</text>
<text x="1186.5" y="3756.2" font-family="'Liberation Sans', sans-serif" font-size="21.6" font-weight="bold" textLength="545.4" lengthAdjust="spacing">GO:0010942: positive regulation of cell death</text>
<text x="1186.5" y="3791.2" font-family="'Liberation Sans', sans-serif" font-size="21.6" font-weight="bold" textLength="715.5" lengthAdjust="spacing">GO:0048660: regulation of smooth muscle cell proliferation</text>
<text x="1186.5" y="3821.3" font-family="'Liberation Sans', sans-serif" font-size="21.6" font-weight="bold" textLength="311.5" lengthAdjust="spacing">ko05166: HTLV-I infection</text>
<text x="1186.5" y="3851.3" font-family="'Liberation Sans', sans-serif" font-size="21.6" font-weight="bold" textLength="420.2" lengthAdjust="spacing">GO:0045444: fat cell differentiation</text>
<text x="1186.5" y="3880.4" font-family="'Liberation Sans', sans-serif" font-size="21.6" font-weight="bold" textLength="405.1" lengthAdjust="spacing">GO:1901652: response to peptide</text>
<text x="1186.5" y="3909.4" font-family="'Liberation Sans', sans-serif" font-size="21.6" font-weight="bold" textLength="580.4" lengthAdjust="spacing">ko05418: Fluid sheer stress and atherosclerosis</text>
<text x="1186.5" y="3938.4" font-family="'Liberation Sans', sans-serif" font-size="21.6" font-weight="bold" textLength="573.4" lengthAdjust="spacing">GO:0009991: response to extracellular stimulus</text>
<text x="1186.5" y="3967.6" font-family="'Liberation Sans', sans-serif" font-size="21.6" font-weight="bold" textLength="509.3" lengthAdjust="spacing">GO:0000188: inactivation of MAPK activity</text>
<text x="1186.5" y="3997.6" font-family="'Liberation Sans', sans-serif" font-size="21.6" font-weight="bold" textLength="518.3" lengthAdjust="spacing">GO:0032609: interferon-gamma production</text>
<text x="1186.5" y="4033.2" font-family="'Liberation Sans', sans-serif" font-size="21.6" font-weight="bold" textLength="565.4" lengthAdjust="spacing">GO:0071276: cellular response to cadmium ion</text>
<text x="1186.5" y="4062.2" font-family="'Liberation Sans', sans-serif" font-size="21.6" font-weight="bold" textLength="485.3" lengthAdjust="spacing">GO:1901214: regulation of neuron death</text>
<text x="1186.5" y="4091.8" font-family="'Liberation Sans', sans-serif" font-size="21.6" font-weight="bold" textLength="576.9" lengthAdjust="spacing">GO:0035914: skeletal muscle cell differentiation</text>
<text x="1186.5" y="4121.3" font-family="'Liberation Sans', sans-serif" font-size="21.6" font-weight="bold" textLength="477.7" lengthAdjust="spacing">GO:0070848: response to growth factor</text>
<text x="1186.5" y="4150.3" font-family="'Liberation Sans', sans-serif" font-size="21.6" font-weight="bold" textLength="441.7" lengthAdjust="spacing">GO:0006954: inflammatory response</text>
<text x="1186.5" y="4179.4" font-family="'Liberation Sans', sans-serif" font-size="21.6" font-weight="bold" textLength="451.7" lengthAdjust="spacing">mmu04380: Osteoclast differentiation</text>
<text x="1186.5" y="4210.4" font-family="'Liberation Sans', sans-serif" font-size="21.6" font-weight="bold" textLength="813.8" lengthAdjust="spacing">R-MMU-352230: Amino acid transport across the plasma membrane</text>
</g>
</svg></body></html>
